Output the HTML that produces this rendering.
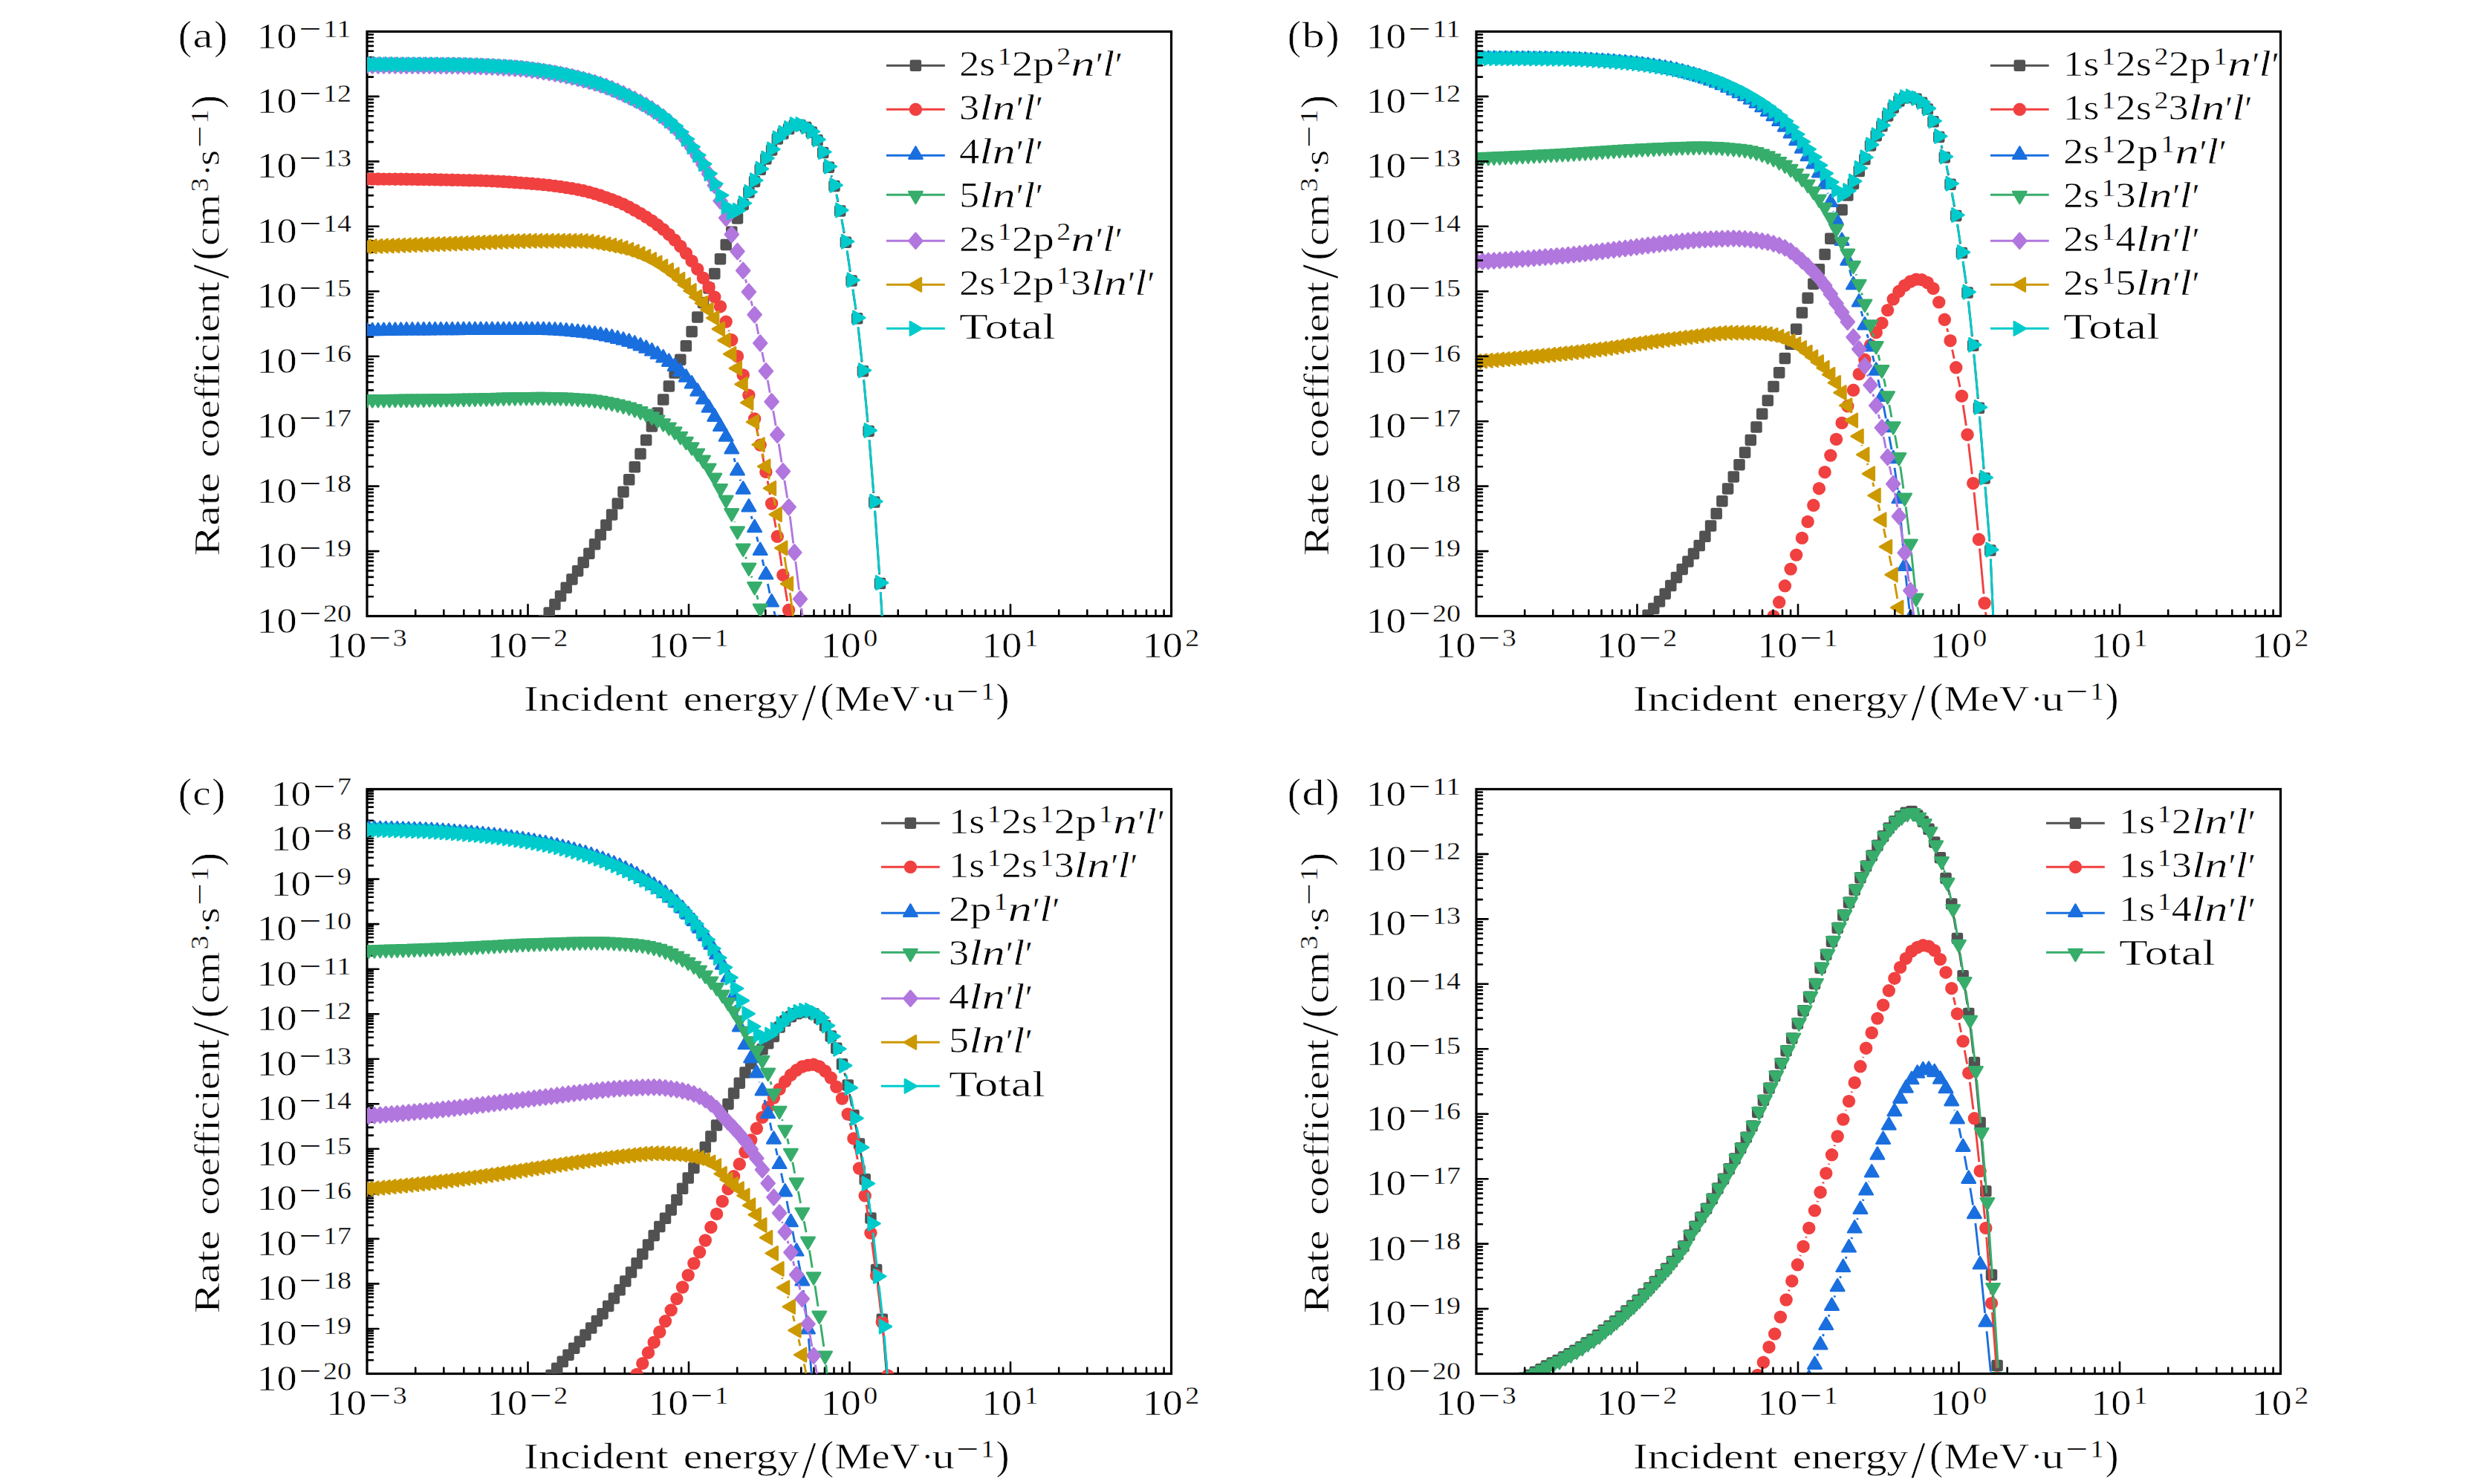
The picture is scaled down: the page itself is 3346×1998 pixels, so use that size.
<!DOCTYPE html><html><head><meta charset="utf-8"><title>Rate coefficients</title><style>html,body{margin:0;padding:0;background:#fff}svg{display:block}text{white-space:pre}</style></head><body><svg width="3346" height="1998" viewBox="0 0 3346 1998"><rect width="3346" height="1998" fill="#fff"/><defs><marker id="m_gray" markerUnits="userSpaceOnUse" markerWidth="40" markerHeight="40" refX="0" refY="0" viewBox="-20 -20 40 40" overflow="visible" orient="0"><g fill="#515151" stroke="#515151" stroke-width="0"><rect x="-7.75" y="-7.75" width="15.5" height="15.5" rx="2.4" ry="2.4"/></g></marker><marker id="m_red" markerUnits="userSpaceOnUse" markerWidth="40" markerHeight="40" refX="0" refY="0" viewBox="-20 -20 40 40" overflow="visible" orient="0"><g fill="#F14040" stroke="#F14040" stroke-width="0"><circle r="8.7"/></g></marker><marker id="m_blue" markerUnits="userSpaceOnUse" markerWidth="40" markerHeight="40" refX="0" refY="0" viewBox="-20 -20 40 40" overflow="visible" orient="0"><g fill="#1A6FDF" stroke="#1A6FDF" stroke-width="0"><path d="M0.00,-10.57 L9.15,5.28 L-9.15,5.28 Z" stroke-width="2.6" stroke-linejoin="round"/></g></marker><marker id="m_green" markerUnits="userSpaceOnUse" markerWidth="40" markerHeight="40" refX="0" refY="0" viewBox="-20 -20 40 40" overflow="visible" orient="0"><g fill="#37AD6B" stroke="#37AD6B" stroke-width="0"><path d="M0.00,10.57 L9.15,-5.28 L-9.15,-5.28 Z" stroke-width="2.6" stroke-linejoin="round"/></g></marker><marker id="m_purple" markerUnits="userSpaceOnUse" markerWidth="40" markerHeight="40" refX="0" refY="0" viewBox="-20 -20 40 40" overflow="visible" orient="0"><g fill="#B177DE" stroke="#B177DE" stroke-width="0"><path d="M-0.00,-10.41 L8.98,0.00 L0.00,10.41 L-8.98,0.00 Z" stroke-width="2.6" stroke-linejoin="round"/></g></marker><marker id="m_gold" markerUnits="userSpaceOnUse" markerWidth="40" markerHeight="40" refX="0" refY="0" viewBox="-20 -20 40 40" overflow="visible" orient="0"><g fill="#CC9900" stroke="#CC9900" stroke-width="0"><path d="M-10.57,0.00 L5.28,-9.15 L5.28,9.15 Z" stroke-width="2.6" stroke-linejoin="round"/></g></marker><marker id="m_cyan" markerUnits="userSpaceOnUse" markerWidth="40" markerHeight="40" refX="0" refY="0" viewBox="-20 -20 40 40" overflow="visible" orient="0"><g fill="#00CBCC" stroke="#00CBCC" stroke-width="0"><path d="M10.57,0.00 L-5.28,-9.15 L-5.28,9.15 Z" stroke-width="2.6" stroke-linejoin="round"/></g></marker></defs><clipPath id="cp_a"><rect x="494" y="42.5" width="1082.5" height="787.0"/></clipPath><path d="M559.2,829.5 v-8 M597.3,829.5 v-8 M624.3,829.5 v-8 M645.3,829.5 v-8 M662.5,829.5 v-8 M677.0,829.5 v-8 M689.5,829.5 v-8 M700.6,829.5 v-8 M775.7,829.5 v-8 M813.8,829.5 v-8 M840.8,829.5 v-8 M861.8,829.5 v-8 M879.0,829.5 v-8 M893.5,829.5 v-8 M906.0,829.5 v-8 M917.1,829.5 v-8 M710.5,829.5 v-15.5 M992.2,829.5 v-8 M1030.3,829.5 v-8 M1057.3,829.5 v-8 M1078.3,829.5 v-8 M1095.5,829.5 v-8 M1110.0,829.5 v-8 M1122.5,829.5 v-8 M1133.6,829.5 v-8 M927.0,829.5 v-15.5 M1208.7,829.5 v-8 M1246.8,829.5 v-8 M1273.8,829.5 v-8 M1294.8,829.5 v-8 M1312.0,829.5 v-8 M1326.5,829.5 v-8 M1339.0,829.5 v-8 M1350.1,829.5 v-8 M1143.5,829.5 v-15.5 M1425.2,829.5 v-8 M1463.3,829.5 v-8 M1490.3,829.5 v-8 M1511.3,829.5 v-8 M1528.5,829.5 v-8 M1543.0,829.5 v-8 M1555.5,829.5 v-8 M1566.6,829.5 v-8 M1360.0,829.5 v-15.5 M494,803.2 h8 M494,787.8 h8 M494,776.9 h8 M494,768.4 h8 M494,761.5 h8 M494,755.6 h8 M494,750.5 h8 M494,746.1 h8 M494,715.7 h8 M494,700.3 h8 M494,689.4 h8 M494,680.9 h8 M494,674.0 h8 M494,668.2 h8 M494,663.1 h8 M494,658.6 h8 M494,742.1 h15.5 M494,628.3 h8 M494,612.9 h8 M494,602.0 h8 M494,593.5 h8 M494,586.6 h8 M494,580.7 h8 M494,575.6 h8 M494,571.2 h8 M494,654.6 h15.5 M494,540.8 h8 M494,525.4 h8 M494,514.5 h8 M494,506.0 h8 M494,499.1 h8 M494,493.3 h8 M494,488.2 h8 M494,483.7 h8 M494,567.2 h15.5 M494,453.4 h8 M494,438.0 h8 M494,427.1 h8 M494,418.6 h8 M494,411.7 h8 M494,405.8 h8 M494,400.8 h8 M494,396.3 h8 M494,479.7 h15.5 M494,366.0 h8 M494,350.6 h8 M494,339.6 h8 M494,331.2 h8 M494,324.2 h8 M494,318.4 h8 M494,313.3 h8 M494,308.8 h8 M494,392.3 h15.5 M494,278.5 h8 M494,263.1 h8 M494,252.2 h8 M494,243.7 h8 M494,236.8 h8 M494,230.9 h8 M494,225.9 h8 M494,221.4 h8 M494,304.8 h15.5 M494,191.1 h8 M494,175.7 h8 M494,164.7 h8 M494,156.3 h8 M494,149.3 h8 M494,143.5 h8 M494,138.4 h8 M494,133.9 h8 M494,217.4 h15.5 M494,103.6 h8 M494,88.2 h8 M494,77.3 h8 M494,68.8 h8 M494,61.9 h8 M494,56.0 h8 M494,51.0 h8 M494,46.5 h8 M494,129.9 h15.5" stroke="#000" stroke-width="2.6" fill="none" stroke-linecap="round"/><rect x="494" y="42.5" width="1082.5" height="787.0" fill="none" stroke="#000" stroke-width="3.2"/><g clip-path="url(#cp_a)" fill="none" stroke-width="2.9" stroke-linejoin="round"><path d="M1118.9,236.9L1119.5,238.6M1125.8,262.4L1128.0,272.0M1132.9,296.1L1136.2,314.1M1140.2,338.3L1144.3,366.0M1147.9,390.3L1151.9,416.7M1155.1,441.1L1160.1,487.5M1162.6,511.9L1167.9,568.3M1170.1,592.8L1175.8,663.8M1177.6,688.3L1183.6,773.3M1185.2,797.9L1191.4,898.1" stroke="#515151"/><polyline points="731.5,836.1 739.2,824.9 746.9,813.8 754.5,802.6 762.2,791.3 769.9,780.0 777.6,768.7 785.2,757.2 792.9,745.2 800.6,732.8 808.3,720.1 815.9,706.9 823.6,692.9 831.3,678.0 839.0,662.2 846.7,645.8 854.3,628.8 862.0,611.1 869.7,592.6 877.4,574.1 885.0,556.1 892.7,538.1 900.4,520.0 908.1,502.1 915.8,484.2 923.4,465.8 931.1,446.5 938.8,427.0 946.5,407.5 954.1,388.0 961.8,368.4 969.5,348.7 977.2,329.4 984.8,312.2 992.5,293.9 1000.2,275.4 1007.9,258.9 1015.6,244.4 1023.2,228.3 1030.9,214.0 1038.6,202.0 1046.3,187.0 1053.9,179.9 1061.6,173.6 1069.3,168.6 1077.0,168.6 1084.7,171.6 1092.3,178.1 1100.0,188.8 1107.7,205.6 1115.4,225.2 1123.0,250.4 1130.7,284.0 1138.4,326.2 1146.1,378.1 1153.7,428.8 1161.4,499.7 1169.1,580.5 1176.8,676.1 1184.5,785.6 1192.1,910.4" stroke="none" marker-start="url(#m_gray)" marker-mid="url(#m_gray)" marker-end="url(#m_gray)"/><path d="M980.8,444.8L981.2,446.0M996.1,491.5L996.6,493.1M1003.5,516.7L1004.5,520.3M1010.8,544.1L1012.7,551.9M1018.2,575.9L1020.6,587.1M1025.8,611.1L1028.4,623.4M1033.1,647.5L1036.4,665.9M1040.7,690.1L1044.2,710.2M1048.1,734.5L1052.1,762.0M1055.9,786.3L1059.6,809.2M1063.6,833.5L1067.3,855.8" stroke="#F14040"/><polyline points="485.8,240.9 493.5,241.0 501.2,241.0 508.9,241.0 516.5,241.1 524.2,241.1 531.9,241.2 539.6,241.2 547.2,241.3 554.9,241.4 562.6,241.5 570.3,241.6 578.0,241.7 585.6,241.8 593.3,242.0 601.0,242.1 608.7,242.3 616.3,242.4 624.0,242.6 631.7,242.8 639.4,242.9 647.0,243.1 654.7,243.4 662.4,243.7 670.1,244.1 677.8,244.5 685.4,245.0 693.1,245.5 700.8,246.1 708.5,246.6 716.1,247.3 723.8,247.9 731.5,248.6 739.2,249.4 746.9,250.4 754.5,251.4 762.2,252.6 769.9,253.8 777.6,255.2 785.2,256.8 792.9,258.7 800.6,260.9 808.3,263.3 815.9,265.9 823.6,268.6 831.3,271.6 839.0,274.9 846.7,278.8 854.3,283.0 862.0,287.4 869.7,292.1 877.4,297.2 885.0,302.8 892.7,308.9 900.4,315.7 908.1,323.1 915.8,331.5 923.4,341.0 931.1,351.4 938.8,362.4 946.5,374.2 954.1,386.9 961.8,399.9 969.5,412.7 977.2,433.1 984.8,457.8 992.5,479.7 1000.2,504.9 1007.9,532.1 1015.6,563.9 1023.2,599.1 1030.9,635.4 1038.6,678.0 1046.3,722.3 1053.9,774.2 1061.6,821.3 1069.3,867.9" stroke="none" marker-start="url(#m_red)" marker-mid="url(#m_red)" marker-end="url(#m_red)"/><path d="M988.0,616.9L989.4,622.0M996.1,645.6L996.6,647.4M1011.2,694.8L1012.3,698.9M1018.5,722.7L1020.3,729.5M1026.1,753.4L1028.1,762.0M1033.4,786.0L1036.1,798.9M1041.8,822.8L1043.1,827.8" stroke="#1A6FDF"/><polyline points="485.8,445.8 493.5,445.8 501.2,445.7 508.9,445.6 516.5,445.4 524.2,445.3 531.9,445.2 539.6,445.1 547.2,445.0 554.9,445.0 562.6,444.9 570.3,444.8 578.0,444.8 585.6,444.7 593.3,444.7 601.0,444.6 608.7,444.6 616.3,444.6 624.0,444.5 631.7,444.5 639.4,444.5 647.0,444.5 654.7,444.4 662.4,444.4 670.1,444.4 677.8,444.4 685.4,444.4 693.1,444.4 700.8,444.4 708.5,444.4 716.1,444.4 723.8,444.4 731.5,444.4 739.2,444.6 746.9,444.9 754.5,445.4 762.2,446.0 769.9,446.7 777.6,447.4 785.2,448.1 792.9,449.0 800.6,450.1 808.3,451.4 815.9,452.9 823.6,454.5 831.3,456.3 839.0,458.2 846.7,460.3 854.3,463.0 862.0,465.9 869.7,469.2 877.4,473.0 885.0,477.2 892.7,482.0 900.4,487.3 908.1,493.5 915.8,500.4 923.4,508.1 931.1,517.0 938.8,527.2 946.5,538.0 954.1,549.2 961.8,561.3 969.5,574.5 977.2,588.1 984.8,605.0 992.5,633.9 1000.2,659.1 1007.9,682.9 1015.6,710.7 1023.2,741.5 1030.9,773.9 1038.6,811.0 1046.3,839.7" stroke="none" marker-start="url(#m_blue)" marker-mid="url(#m_blue)" marker-end="url(#m_blue)"/><path d="M988.6,702.4L988.8,703.2M1003.7,749.9L1004.4,752.3M1011.4,775.9L1012.0,777.7M1018.6,801.4L1020.1,807.2M1026.1,831.0L1028.0,838.8" stroke="#37AD6B"/><polyline points="485.8,537.8 493.5,537.7 501.2,537.7 508.9,537.6 516.5,537.5 524.2,537.5 531.9,537.4 539.6,537.3 547.2,537.2 554.9,537.2 562.6,537.1 570.3,537.0 578.0,536.9 585.6,536.8 593.3,536.7 601.0,536.6 608.7,536.5 616.3,536.4 624.0,536.3 631.7,536.2 639.4,536.0 647.0,535.8 654.7,535.7 662.4,535.5 670.1,535.3 677.8,535.1 685.4,534.9 693.1,534.8 700.8,534.6 708.5,534.5 716.1,534.5 723.8,534.4 731.5,534.4 739.2,534.5 746.9,534.7 754.5,534.9 762.2,535.2 769.9,535.6 777.6,536.0 785.2,536.5 792.9,537.2 800.6,538.1 808.3,539.4 815.9,540.8 823.6,542.4 831.3,544.1 839.0,546.0 846.7,548.1 854.3,550.7 862.0,553.7 869.7,557.0 877.4,560.8 885.0,565.1 892.7,569.8 900.4,575.0 908.1,580.9 915.8,587.4 923.4,594.3 931.1,601.8 938.8,610.0 946.5,619.2 954.1,630.1 961.8,643.1 969.5,657.7 977.2,673.0 984.8,690.7 992.5,714.9 1000.2,738.1 1007.9,764.1 1015.6,789.5 1023.2,819.1 1030.9,850.8" stroke="none" marker-start="url(#m_green)" marker-mid="url(#m_green)" marker-end="url(#m_green)"/><path d="M996.0,350.3L996.7,352.5M1003.4,376.2L1004.7,381.1M1010.9,405.0L1012.6,411.8M1018.0,435.8L1020.8,449.9M1025.7,474.0L1028.5,487.6M1033.2,511.8L1036.3,528.7M1040.7,552.9L1044.2,573.2M1048.2,597.5L1052.1,622.5M1055.9,646.8L1059.7,670.6M1063.2,694.9L1067.8,731.6M1070.8,756.0L1075.5,794.3M1078.7,818.7L1083.0,850.1" stroke="#B177DE"/><polyline points="485.8,88.1 493.5,88.1 501.2,88.1 508.9,88.1 516.5,88.1 524.2,88.1 531.9,88.1 539.6,88.2 547.2,88.2 554.9,88.2 562.6,88.2 570.3,88.2 578.0,88.3 585.6,88.3 593.3,88.4 601.0,88.5 608.7,88.5 616.3,88.6 624.0,88.7 631.7,88.9 639.4,89.2 647.0,89.4 654.7,89.8 662.4,90.1 670.1,90.5 677.8,91.0 685.4,91.4 693.1,91.9 700.8,92.5 708.5,93.3 716.1,94.2 723.8,95.2 731.5,96.4 739.2,97.6 746.9,98.9 754.5,100.3 762.2,101.8 769.9,103.5 777.6,105.3 785.2,107.2 792.9,109.3 800.6,111.5 808.3,113.9 815.9,116.6 823.6,119.6 831.3,122.9 839.0,126.3 846.7,130.0 854.3,133.8 862.0,137.7 869.7,142.0 877.4,146.8 885.0,152.0 892.7,157.7 900.4,164.1 908.1,171.2 915.8,179.2 923.4,188.6 931.1,199.1 938.8,210.3 946.5,221.8 954.1,234.5 961.8,249.6 969.5,270.5 977.2,293.4 984.8,315.7 992.5,338.5 1000.2,364.3 1007.9,393.0 1015.6,423.7 1023.2,462.0 1030.9,499.7 1038.6,540.8 1046.3,585.3 1053.9,634.7 1061.6,682.7 1069.3,743.8 1077.0,806.5 1084.7,862.3" stroke="none" marker-start="url(#m_purple)" marker-mid="url(#m_purple)" marker-end="url(#m_purple)"/><path d="M1003.8,529.1L1004.3,530.5M1011.4,554.0L1012.1,556.4M1018.6,580.1L1020.2,586.7M1026.4,610.6L1027.8,616.1M1034.0,639.9L1035.5,645.5M1041.2,669.4L1043.6,680.5M1048.3,704.7L1051.9,725.8M1055.9,750.1L1059.7,773.8M1063.3,798.1L1067.6,830.3" stroke="#CC9900"/><polyline points="485.8,332.2 493.5,331.9 501.2,331.7 508.9,331.4 516.5,331.1 524.2,330.9 531.9,330.6 539.6,330.3 547.2,330.1 554.9,329.8 562.6,329.5 570.3,329.3 578.0,329.0 585.6,328.8 593.3,328.5 601.0,328.3 608.7,328.0 616.3,327.7 624.0,327.5 631.7,327.2 639.4,326.9 647.0,326.5 654.7,326.2 662.4,325.9 670.1,325.5 677.8,325.3 685.4,325.0 693.1,324.7 700.8,324.6 708.5,324.4 716.1,324.3 723.8,324.3 731.5,324.3 739.2,324.3 746.9,324.3 754.5,324.3 762.2,324.3 769.9,324.3 777.6,324.3 785.2,324.6 792.9,325.3 800.6,326.3 808.3,327.6 815.9,329.0 823.6,330.5 831.3,332.1 839.0,333.9 846.7,336.2 854.3,338.9 862.0,341.9 869.7,345.5 877.4,349.5 885.0,353.9 892.7,358.7 900.4,363.9 908.1,369.7 915.8,376.2 923.4,383.5 931.1,391.6 938.8,399.9 946.5,408.2 954.1,417.2 961.8,428.2 969.5,443.0 977.2,458.3 984.8,476.6 992.5,495.9 1000.2,517.3 1007.9,542.2 1015.6,568.1 1023.2,598.7 1030.9,628.0 1038.6,657.4 1046.3,692.6 1053.9,737.9 1061.6,786.0 1069.3,842.5" stroke="none" marker-start="url(#m_gold)" marker-mid="url(#m_gold)" marker-end="url(#m_gold)"/><path d="M1118.9,235.9L1119.5,237.6M1125.8,261.4L1128.0,271.0M1132.9,295.1L1136.2,313.1M1140.2,337.3L1144.3,365.0M1147.9,389.3L1151.9,415.7M1155.1,440.1L1160.1,486.5M1162.6,510.9L1167.9,567.3M1170.1,591.8L1175.8,662.8M1177.6,687.3L1183.6,772.3M1185.2,796.9L1191.4,897.1" stroke="#00CBCC"/><polyline points="485.8,86.6 493.5,86.6 501.2,86.6 508.9,86.6 516.5,86.6 524.2,86.6 531.9,86.6 539.6,86.7 547.2,86.7 554.9,86.7 562.6,86.7 570.3,86.7 578.0,86.8 585.6,86.8 593.3,86.9 601.0,87.0 608.7,87.0 616.3,87.1 624.0,87.2 631.7,87.4 639.4,87.7 647.0,87.9 654.7,88.3 662.4,88.6 670.1,89.0 677.8,89.5 685.4,89.9 693.1,90.4 700.8,91.0 708.5,91.8 716.1,92.7 723.8,93.7 731.5,94.9 739.2,96.1 746.9,97.4 754.5,98.8 762.2,100.3 769.9,102.0 777.6,103.8 785.2,105.7 792.9,107.8 800.6,110.0 808.3,112.4 815.9,115.1 823.6,118.1 831.3,121.4 839.0,124.8 846.7,128.5 854.3,132.3 862.0,136.2 869.7,140.5 877.4,145.3 885.0,150.5 892.7,156.2 900.4,162.6 908.1,169.7 915.8,177.7 923.4,187.2 931.1,197.6 938.8,208.8 946.5,220.7 954.1,233.7 961.8,247.4 969.5,262.9 977.2,278.3 984.8,286.0 992.5,283.3 1000.2,273.7 1007.9,258.5 1015.6,242.8 1023.2,227.3 1030.9,213.0 1038.6,201.0 1046.3,186.0 1053.9,178.9 1061.6,172.6 1069.3,167.6 1077.0,167.6 1084.7,170.6 1092.3,177.1 1100.0,187.8 1107.7,204.6 1115.4,224.2 1123.0,249.4 1130.7,283.0 1138.4,325.2 1146.1,377.1 1153.7,427.8 1161.4,498.7 1169.1,579.5 1176.8,675.1 1184.5,784.6 1192.1,909.4" stroke="none" marker-start="url(#m_cyan)" marker-mid="url(#m_cyan)" marker-end="url(#m_cyan)"/></g><g font-family='"Liberation Serif", serif' fill="#000" stroke="#fff" stroke-width="0.6"><text x="345.4" y="64.5" font-size="48.0" textLength="54.3" lengthAdjust="spacingAndGlyphs">10</text><text x="402.9" y="49.5" font-size="33.60" stroke="none" textLength="29.6" lengthAdjust="spacingAndGlyphs">−</text><text x="435.0" y="49.5" font-size="33.60" stroke-width="0.35" textLength="38.0" lengthAdjust="spacingAndGlyphs">11</text><text x="345.4" y="151.9" font-size="48.0" textLength="54.3" lengthAdjust="spacingAndGlyphs">10</text><text x="402.9" y="136.9" font-size="33.60" stroke="none" textLength="29.6" lengthAdjust="spacingAndGlyphs">−</text><text x="435.0" y="136.9" font-size="33.60" stroke-width="0.35" textLength="38.0" lengthAdjust="spacingAndGlyphs">12</text><text x="345.4" y="239.4" font-size="48.0" textLength="54.3" lengthAdjust="spacingAndGlyphs">10</text><text x="402.9" y="224.4" font-size="33.60" stroke="none" textLength="29.6" lengthAdjust="spacingAndGlyphs">−</text><text x="435.0" y="224.4" font-size="33.60" stroke-width="0.35" textLength="38.0" lengthAdjust="spacingAndGlyphs">13</text><text x="345.4" y="326.8" font-size="48.0" textLength="54.3" lengthAdjust="spacingAndGlyphs">10</text><text x="402.9" y="311.8" font-size="33.60" stroke="none" textLength="29.6" lengthAdjust="spacingAndGlyphs">−</text><text x="435.0" y="311.8" font-size="33.60" stroke-width="0.35" textLength="38.0" lengthAdjust="spacingAndGlyphs">14</text><text x="345.4" y="414.3" font-size="48.0" textLength="54.3" lengthAdjust="spacingAndGlyphs">10</text><text x="402.9" y="399.3" font-size="33.60" stroke="none" textLength="29.6" lengthAdjust="spacingAndGlyphs">−</text><text x="435.0" y="399.3" font-size="33.60" stroke-width="0.35" textLength="38.0" lengthAdjust="spacingAndGlyphs">15</text><text x="345.4" y="501.7" font-size="48.0" textLength="54.3" lengthAdjust="spacingAndGlyphs">10</text><text x="402.9" y="486.7" font-size="33.60" stroke="none" textLength="29.6" lengthAdjust="spacingAndGlyphs">−</text><text x="435.0" y="486.7" font-size="33.60" stroke-width="0.35" textLength="38.0" lengthAdjust="spacingAndGlyphs">16</text><text x="345.4" y="589.2" font-size="48.0" textLength="54.3" lengthAdjust="spacingAndGlyphs">10</text><text x="402.9" y="574.2" font-size="33.60" stroke="none" textLength="29.6" lengthAdjust="spacingAndGlyphs">−</text><text x="435.0" y="574.2" font-size="33.60" stroke-width="0.35" textLength="38.0" lengthAdjust="spacingAndGlyphs">17</text><text x="345.4" y="676.6" font-size="48.0" textLength="54.3" lengthAdjust="spacingAndGlyphs">10</text><text x="402.9" y="661.6" font-size="33.60" stroke="none" textLength="29.6" lengthAdjust="spacingAndGlyphs">−</text><text x="435.0" y="661.6" font-size="33.60" stroke-width="0.35" textLength="38.0" lengthAdjust="spacingAndGlyphs">18</text><text x="345.4" y="764.1" font-size="48.0" textLength="54.3" lengthAdjust="spacingAndGlyphs">10</text><text x="402.9" y="749.1" font-size="33.60" stroke="none" textLength="29.6" lengthAdjust="spacingAndGlyphs">−</text><text x="435.0" y="749.1" font-size="33.60" stroke-width="0.35" textLength="38.0" lengthAdjust="spacingAndGlyphs">19</text><text x="345.4" y="851.5" font-size="48.0" textLength="54.3" lengthAdjust="spacingAndGlyphs">10</text><text x="402.9" y="836.5" font-size="33.60" stroke="none" textLength="29.6" lengthAdjust="spacingAndGlyphs">−</text><text x="435.0" y="836.5" font-size="33.60" stroke-width="0.35" textLength="38.0" lengthAdjust="spacingAndGlyphs">20</text><text x="439.2" y="885.0" font-size="48.0" textLength="54.3" lengthAdjust="spacingAndGlyphs">10</text><text x="496.7" y="870.0" font-size="33.60" stroke="none" textLength="29.6" lengthAdjust="spacingAndGlyphs">−</text><text x="528.8" y="870.0" font-size="33.60" stroke-width="0.35" textLength="19.0" lengthAdjust="spacingAndGlyphs">3</text><text x="655.7" y="885.0" font-size="48.0" textLength="54.3" lengthAdjust="spacingAndGlyphs">10</text><text x="713.2" y="870.0" font-size="33.60" stroke="none" textLength="29.6" lengthAdjust="spacingAndGlyphs">−</text><text x="745.3" y="870.0" font-size="33.60" stroke-width="0.35" textLength="19.0" lengthAdjust="spacingAndGlyphs">2</text><text x="872.2" y="885.0" font-size="48.0" textLength="54.3" lengthAdjust="spacingAndGlyphs">10</text><text x="929.7" y="870.0" font-size="33.60" stroke="none" textLength="29.6" lengthAdjust="spacingAndGlyphs">−</text><text x="961.8" y="870.0" font-size="33.60" stroke-width="0.35" textLength="19.0" lengthAdjust="spacingAndGlyphs">1</text><text x="1104.7" y="885.0" font-size="48.0" textLength="54.3" lengthAdjust="spacingAndGlyphs">10</text><text x="1162.2" y="870.0" font-size="33.60" stroke-width="0.35" textLength="19.0" lengthAdjust="spacingAndGlyphs">0</text><text x="1321.2" y="885.0" font-size="48.0" textLength="54.3" lengthAdjust="spacingAndGlyphs">10</text><text x="1378.7" y="870.0" font-size="33.60" stroke-width="0.35" textLength="19.0" lengthAdjust="spacingAndGlyphs">1</text><text x="1537.7" y="885.0" font-size="48.0" textLength="54.3" lengthAdjust="spacingAndGlyphs">10</text><text x="1595.2" y="870.0" font-size="33.60" stroke-width="0.35" textLength="19.0" lengthAdjust="spacingAndGlyphs">2</text><text x="240.1" y="65.5" font-size="54.0">(</text><text x="259.6" y="64.0" font-size="48.0" textLength="27.1" lengthAdjust="spacingAndGlyphs">a</text><text x="288.3" y="65.5" font-size="54.0">)</text><text x="705.0" y="956.7" font-size="48.0" textLength="194.6" lengthAdjust="spacingAndGlyphs">Incident</text><text x="919.7" y="956.7" font-size="48.0" textLength="155.5" lengthAdjust="spacingAndGlyphs">energy</text><text x="1079.2" y="968.7" font-size="69.0">/</text><text x="1103.9" y="958.2" font-size="54.0">(</text><text x="1123.5" y="956.7" font-size="48.0" textLength="114.6" lengthAdjust="spacingAndGlyphs">MeV</text><text x="1240.3" y="956.7" font-size="48.0">·</text><text x="1254.4" y="956.7" font-size="48.0" textLength="30.2" lengthAdjust="spacingAndGlyphs">u</text><text x="1287.8" y="941.7" font-size="33.60" stroke="none" textLength="29.6" lengthAdjust="spacingAndGlyphs">−</text><text x="1319.9" y="941.7" font-size="33.60" stroke-width="0.35" textLength="19.0" lengthAdjust="spacingAndGlyphs">1</text><text x="1340.4" y="958.2" font-size="54.0">)</text><g transform="translate(294.8,748.5) rotate(-90)"><text x="0.0" y="0.0" font-size="48.0" textLength="112.3" lengthAdjust="spacingAndGlyphs">Rate</text><text x="132.4" y="0.0" font-size="48.0" textLength="236.8" lengthAdjust="spacingAndGlyphs">coefficient</text><text x="373.2" y="12.0" font-size="69.0">/</text><text x="398.0" y="1.5" font-size="54.0">(</text><text x="417.5" y="0.0" font-size="48.0" textLength="69.3" lengthAdjust="spacingAndGlyphs">cm</text><text x="490.1" y="-15.0" font-size="33.60" stroke-width="0.35" textLength="19.0" lengthAdjust="spacingAndGlyphs">3</text><text x="511.2" y="0.0" font-size="48.0">·</text><text x="525.3" y="0.0" font-size="48.0" textLength="21.4" lengthAdjust="spacingAndGlyphs">s</text><text x="549.9" y="-15.0" font-size="33.60" stroke="none" textLength="29.6" lengthAdjust="spacingAndGlyphs">−</text><text x="582.0" y="-15.0" font-size="33.60" stroke-width="0.35" textLength="19.0" lengthAdjust="spacingAndGlyphs">1</text><text x="602.6" y="1.5" font-size="54.0">)</text></g><path d="M1193,88.3 h78.8" stroke="#515151" stroke-width="2.9" fill="none"/><g transform="translate(1232.4,88.3)" fill="#515151" stroke="#515151" stroke-width="0"><rect x="-7.75" y="-7.75" width="15.5" height="15.5" rx="2.4" ry="2.4"/></g><text x="1291.0" y="101.9" font-size="48.0" textLength="48.5" lengthAdjust="spacingAndGlyphs">2s</text><text x="1342.7" y="86.9" font-size="33.60" stroke-width="0.35" textLength="19.0" lengthAdjust="spacingAndGlyphs">1</text><text x="1361.7" y="101.9" font-size="48.0" textLength="57.3" lengthAdjust="spacingAndGlyphs">2p</text><text x="1422.3" y="86.9" font-size="33.60" stroke-width="0.35" textLength="19.0" lengthAdjust="spacingAndGlyphs">2</text><text x="1441.3" y="101.9" font-size="48.0" font-style="italic" textLength="32.6" lengthAdjust="spacingAndGlyphs">n</text><text x="1474.9" y="102.9" font-size="45.6" stroke-width="0.3">′</text><text x="1483.9" y="101.9" font-size="48.0" font-style="italic" textLength="16.2" lengthAdjust="spacingAndGlyphs">l</text><text x="1501.1" y="102.9" font-size="45.6" stroke-width="0.3">′</text><path d="M1193,147.3 h78.8" stroke="#F14040" stroke-width="2.9" fill="none"/><g transform="translate(1232.4,147.3)" fill="#F14040" stroke="#F14040" stroke-width="0"><circle r="8.7"/></g><text x="1291.0" y="160.9" font-size="48.0" textLength="27.1" lengthAdjust="spacingAndGlyphs">3</text><text x="1318.2" y="160.9" font-size="48.0" font-style="italic" textLength="48.8" lengthAdjust="spacingAndGlyphs">ln</text><text x="1367.9" y="161.9" font-size="45.6" stroke-width="0.3">′</text><text x="1377.0" y="160.9" font-size="48.0" font-style="italic" textLength="16.2" lengthAdjust="spacingAndGlyphs">l</text><text x="1394.1" y="161.9" font-size="45.6" stroke-width="0.3">′</text><path d="M1193,209.3 h78.8" stroke="#1A6FDF" stroke-width="2.9" fill="none"/><g transform="translate(1232.4,208.3)" fill="#1A6FDF" stroke="#1A6FDF" stroke-width="0"><path d="M0.00,-10.57 L9.15,5.28 L-9.15,5.28 Z" stroke-width="2.6" stroke-linejoin="round"/></g><text x="1291.0" y="219.9" font-size="48.0" textLength="27.1" lengthAdjust="spacingAndGlyphs">4</text><text x="1318.2" y="219.9" font-size="48.0" font-style="italic" textLength="48.8" lengthAdjust="spacingAndGlyphs">ln</text><text x="1367.9" y="220.9" font-size="45.6" stroke-width="0.3">′</text><text x="1377.0" y="219.9" font-size="48.0" font-style="italic" textLength="16.2" lengthAdjust="spacingAndGlyphs">l</text><text x="1394.1" y="220.9" font-size="45.6" stroke-width="0.3">′</text><path d="M1193,262.3 h78.8" stroke="#37AD6B" stroke-width="2.9" fill="none"/><g transform="translate(1232.4,263.3)" fill="#37AD6B" stroke="#37AD6B" stroke-width="0"><path d="M0.00,10.57 L9.15,-5.28 L-9.15,-5.28 Z" stroke-width="2.6" stroke-linejoin="round"/></g><text x="1291.0" y="278.9" font-size="48.0" textLength="27.1" lengthAdjust="spacingAndGlyphs">5</text><text x="1318.2" y="278.9" font-size="48.0" font-style="italic" textLength="48.8" lengthAdjust="spacingAndGlyphs">ln</text><text x="1367.9" y="279.9" font-size="45.6" stroke-width="0.3">′</text><text x="1377.0" y="278.9" font-size="48.0" font-style="italic" textLength="16.2" lengthAdjust="spacingAndGlyphs">l</text><text x="1394.1" y="279.9" font-size="45.6" stroke-width="0.3">′</text><path d="M1193,324.3 h78.8" stroke="#B177DE" stroke-width="2.9" fill="none"/><g transform="translate(1232.4,324.3)" fill="#B177DE" stroke="#B177DE" stroke-width="0"><path d="M-0.00,-10.41 L8.98,0.00 L0.00,10.41 L-8.98,0.00 Z" stroke-width="2.6" stroke-linejoin="round"/></g><text x="1291.0" y="337.9" font-size="48.0" textLength="48.5" lengthAdjust="spacingAndGlyphs">2s</text><text x="1342.7" y="322.9" font-size="33.60" stroke-width="0.35" textLength="19.0" lengthAdjust="spacingAndGlyphs">1</text><text x="1361.7" y="337.9" font-size="48.0" textLength="57.3" lengthAdjust="spacingAndGlyphs">2p</text><text x="1422.3" y="322.9" font-size="33.60" stroke-width="0.35" textLength="19.0" lengthAdjust="spacingAndGlyphs">2</text><text x="1441.3" y="337.9" font-size="48.0" font-style="italic" textLength="32.6" lengthAdjust="spacingAndGlyphs">n</text><text x="1474.9" y="338.9" font-size="45.6" stroke-width="0.3">′</text><text x="1483.9" y="337.9" font-size="48.0" font-style="italic" textLength="16.2" lengthAdjust="spacingAndGlyphs">l</text><text x="1501.1" y="338.9" font-size="45.6" stroke-width="0.3">′</text><path d="M1193,383.3 h78.8" stroke="#CC9900" stroke-width="2.9" fill="none"/><g transform="translate(1234.6,383.3)" fill="#CC9900" stroke="#CC9900" stroke-width="0"><path d="M-10.57,0.00 L5.28,-9.15 L5.28,9.15 Z" stroke-width="2.6" stroke-linejoin="round"/></g><text x="1291.0" y="396.9" font-size="48.0" textLength="48.5" lengthAdjust="spacingAndGlyphs">2s</text><text x="1342.7" y="381.9" font-size="33.60" stroke-width="0.35" textLength="19.0" lengthAdjust="spacingAndGlyphs">1</text><text x="1361.7" y="396.9" font-size="48.0" textLength="57.3" lengthAdjust="spacingAndGlyphs">2p</text><text x="1422.3" y="381.9" font-size="33.60" stroke-width="0.35" textLength="19.0" lengthAdjust="spacingAndGlyphs">1</text><text x="1441.3" y="396.9" font-size="48.0" textLength="27.1" lengthAdjust="spacingAndGlyphs">3</text><text x="1468.4" y="396.9" font-size="48.0" font-style="italic" textLength="48.8" lengthAdjust="spacingAndGlyphs">ln</text><text x="1518.2" y="397.9" font-size="45.6" stroke-width="0.3">′</text><text x="1527.3" y="396.9" font-size="48.0" font-style="italic" textLength="16.2" lengthAdjust="spacingAndGlyphs">l</text><text x="1544.4" y="397.9" font-size="45.6" stroke-width="0.3">′</text><path d="M1193,442.3 h78.8" stroke="#00CBCC" stroke-width="2.9" fill="none"/><g transform="translate(1230.2,442.3)" fill="#00CBCC" stroke="#00CBCC" stroke-width="0"><path d="M10.57,0.00 L-5.28,-9.15 L-5.28,9.15 Z" stroke-width="2.6" stroke-linejoin="round"/></g><text x="1291.0" y="455.9" font-size="48.0" textLength="129.7" lengthAdjust="spacingAndGlyphs">Total</text></g><clipPath id="cp_b"><rect x="1987" y="42.5" width="1082.5" height="787.0"/></clipPath><g clip-path="url(#cp_b)" fill="none" stroke-width="2.9" stroke-linejoin="round"><path d="M2613.0,196.3L2614.0,200.0M2619.9,223.9L2622.5,236.2M2627.2,260.3L2630.5,278.4M2634.6,302.6L2638.5,328.5M2642.1,352.8L2646.3,381.9M2649.4,406.3L2654.4,453.1M2656.8,477.6L2662.3,537.0M2664.4,561.5L2670.1,631.7M2672.0,656.2L2677.8,728.8M2679.3,753.4L2685.9,904.0" stroke="#515151"/><polyline points="2210.4,837.2 2218.1,828.2 2225.8,819.3 2233.5,809.8 2241.2,799.5 2248.8,788.6 2256.5,777.5 2264.2,766.4 2271.9,756.0 2279.5,745.6 2287.2,734.6 2294.9,722.3 2302.6,707.9 2310.2,691.6 2317.9,674.7 2325.6,658.0 2333.3,641.9 2341.0,625.7 2348.6,609.2 2356.3,592.4 2364.0,575.1 2371.7,557.3 2379.3,539.2 2387.0,520.6 2394.7,501.7 2402.4,482.5 2410.1,463.3 2417.7,443.2 2425.4,421.1 2433.1,401.3 2440.8,382.2 2448.4,362.8 2456.1,342.4 2463.8,321.2 2471.5,302.1 2479.1,282.6 2486.8,263.1 2494.5,247.5 2502.2,230.6 2509.9,214.6 2517.5,196.0 2525.2,182.7 2532.9,169.8 2540.6,155.9 2548.2,145.0 2555.9,136.1 2563.6,131.7 2571.3,130.8 2579.0,133.3 2586.6,138.3 2594.3,147.0 2602.0,163.8 2609.7,184.4 2617.3,211.9 2625.0,248.2 2632.7,290.5 2640.4,340.6 2648.0,394.1 2655.7,465.3 2663.4,549.3 2671.1,644.0 2678.8,741.1 2686.4,916.2" stroke="none" marker-start="url(#m_gray)" marker-mid="url(#m_gray)" marker-end="url(#m_gray)"/><path d="M2620.5,442.2L2621.8,446.9M2627.6,470.8L2630.1,482.8M2635.1,506.9L2638.0,521.1M2642.2,545.3L2646.3,573.0M2649.5,597.4L2654.3,638.4M2657.0,662.9L2662.2,714.0M2664.5,738.5L2670.0,799.7M2672.5,824.2L2677.3,865.2" stroke="#F14040"/><polyline points="2379.3,848.3 2387.0,829.7 2394.7,810.8 2402.4,788.8 2410.1,766.1 2417.7,747.1 2425.4,724.4 2433.1,702.4 2440.8,680.3 2448.4,657.7 2456.1,635.7 2463.8,613.1 2471.5,591.4 2479.1,569.4 2486.8,546.8 2494.5,525.3 2502.2,503.6 2509.9,484.3 2517.5,464.6 2525.2,447.5 2532.9,434.9 2540.6,417.6 2548.2,402.9 2555.9,392.3 2563.6,384.4 2571.3,379.0 2579.0,376.1 2586.6,376.6 2594.3,380.5 2602.0,388.4 2609.7,406.9 2617.3,430.3 2625.0,458.7 2632.7,494.8 2640.4,533.2 2648.0,585.2 2655.7,650.7 2663.4,726.3 2671.1,812.0 2678.8,877.4" stroke="none" marker-start="url(#m_red)" marker-mid="url(#m_red)" marker-end="url(#m_red)"/><path d="M2459.8,259.8L2460.1,260.7M2467.5,284.1L2467.7,284.8M2474.7,308.4L2475.9,312.5M2482.5,336.2L2483.4,339.3M2489.6,363.1L2491.7,371.8M2505.1,418.9L2506.9,426.0M2513.0,449.8L2514.4,455.0M2520.4,478.8L2522.4,487.2M2527.8,511.1L2530.3,522.4M2535.1,546.5L2538.3,563.5M2542.8,587.7L2546.0,605.6M2550.0,629.9L2554.2,659.4M2557.0,683.8L2562.6,750.2M2564.9,774.7L2569.9,820.1M2572.9,844.5L2577.3,877.7" stroke="#1A6FDF"/><polyline points="1980.1,79.4 1987.8,79.5 1995.5,79.5 2003.2,79.5 2010.8,79.5 2018.5,79.6 2026.2,79.6 2033.9,79.6 2041.5,79.7 2049.2,79.7 2056.9,79.8 2064.6,79.9 2072.3,79.9 2079.9,80.0 2087.6,80.1 2095.3,80.2 2103.0,80.3 2110.6,80.4 2118.3,80.6 2126.0,80.9 2133.7,81.3 2141.3,81.7 2149.0,82.2 2156.7,82.7 2164.4,83.2 2172.1,83.8 2179.7,84.4 2187.4,85.0 2195.1,85.7 2202.8,86.5 2210.4,87.4 2218.1,88.4 2225.8,89.5 2233.5,90.6 2241.2,91.9 2248.8,93.3 2256.5,95.0 2264.2,96.9 2271.9,98.9 2279.5,101.2 2287.2,103.5 2294.9,106.0 2302.6,108.6 2310.2,111.6 2317.9,114.7 2325.6,118.2 2333.3,121.8 2341.0,125.6 2348.6,129.7 2356.3,134.1 2364.0,139.1 2371.7,144.6 2379.3,150.3 2387.0,156.6 2394.7,163.5 2402.4,171.1 2410.1,179.9 2417.7,189.7 2425.4,200.1 2433.1,210.6 2440.8,221.0 2448.4,232.9 2456.1,248.1 2463.8,272.4 2471.5,296.5 2479.1,324.4 2486.8,351.1 2494.5,383.7 2502.2,407.0 2509.9,437.9 2517.5,466.9 2525.2,499.1 2532.9,534.4 2540.6,575.6 2548.2,617.7 2555.9,671.6 2563.6,762.4 2571.3,832.3 2579.0,889.9" stroke="none" marker-start="url(#m_blue)" marker-mid="url(#m_blue)" marker-end="url(#m_blue)"/><path d="M2498.1,369.2L2498.6,370.7M2505.6,394.3L2506.5,397.3M2513.1,421.0L2514.2,425.0M2520.7,448.7L2522.0,453.7M2528.1,477.6L2530.0,485.7M2535.5,509.7L2537.9,520.8M2542.8,544.9L2546.0,561.7M2550.5,585.9L2553.7,603.6M2557.6,627.9L2561.9,657.8M2565.1,682.2L2569.8,719.8M2572.6,744.2L2577.7,792.9M2580.9,817.3L2584.6,839.7" stroke="#37AD6B"/><polyline points="1980.1,212.3 1987.8,212.0 1995.5,211.7 2003.2,211.4 2010.8,211.0 2018.5,210.7 2026.2,210.4 2033.9,210.0 2041.5,209.7 2049.2,209.3 2056.9,209.0 2064.6,208.6 2072.3,208.2 2079.9,207.8 2087.6,207.4 2095.3,207.0 2103.0,206.6 2110.6,206.2 2118.3,205.7 2126.0,205.2 2133.7,204.7 2141.3,204.2 2149.0,203.7 2156.7,203.1 2164.4,202.6 2172.1,202.1 2179.7,201.6 2187.4,201.1 2195.1,200.7 2202.8,200.3 2210.4,199.9 2218.1,199.6 2225.8,199.2 2233.5,198.9 2241.2,198.5 2248.8,198.2 2256.5,197.9 2264.2,197.6 2271.9,197.4 2279.5,197.2 2287.2,197.1 2294.9,197.1 2302.6,197.3 2310.2,197.6 2317.9,198.1 2325.6,198.8 2333.3,199.6 2341.0,200.4 2348.6,201.4 2356.3,202.8 2364.0,204.7 2371.7,207.0 2379.3,209.8 2387.0,213.3 2394.7,217.5 2402.4,222.1 2410.1,227.3 2417.7,233.4 2425.4,240.3 2433.1,248.2 2440.8,257.5 2448.4,268.0 2456.1,279.4 2463.8,292.7 2471.5,308.0 2479.1,325.4 2486.8,341.1 2494.5,357.4 2502.2,382.4 2509.9,409.1 2517.5,436.8 2525.2,465.6 2532.9,497.7 2540.6,532.9 2548.2,573.8 2555.9,615.7 2563.6,670.0 2571.3,732.0 2579.0,805.2 2586.6,851.9" stroke="none" marker-start="url(#m_green)" marker-mid="url(#m_green)" marker-end="url(#m_green)"/><path d="M2513.3,504.3L2514.1,506.7M2520.8,530.4L2521.9,534.2M2528.3,558.0L2529.8,563.9M2535.2,587.9L2538.2,603.5M2543.1,627.7L2545.7,639.5M2550.4,663.6L2553.8,683.0M2557.8,707.2L2561.7,732.2M2565.4,756.5L2569.4,783.1M2572.9,807.4L2577.3,839.3" stroke="#B177DE"/><polyline points="1980.1,352.6 1987.8,352.1 1995.5,351.8 2003.2,351.4 2010.8,351.0 2018.5,350.5 2026.2,350.1 2033.9,349.6 2041.5,349.1 2049.2,348.5 2056.9,348.0 2064.6,347.4 2072.3,346.8 2079.9,346.1 2087.6,345.5 2095.3,344.8 2103.0,344.2 2110.6,343.5 2118.3,342.7 2126.0,341.9 2133.7,341.0 2141.3,340.1 2149.0,339.2 2156.7,338.2 2164.4,337.2 2172.1,336.3 2179.7,335.3 2187.4,334.4 2195.1,333.4 2202.8,332.4 2210.4,331.4 2218.1,330.4 2225.8,329.4 2233.5,328.5 2241.2,327.6 2248.8,326.7 2256.5,325.9 2264.2,325.0 2271.9,324.2 2279.5,323.5 2287.2,322.9 2294.9,322.4 2302.6,322.0 2310.2,321.7 2317.9,321.4 2325.6,321.2 2333.3,321.1 2341.0,321.3 2348.6,321.8 2356.3,322.6 2364.0,323.6 2371.7,324.7 2379.3,326.0 2387.0,328.0 2394.7,330.6 2402.4,333.7 2410.1,338.2 2417.7,344.2 2425.4,351.0 2433.1,358.0 2440.8,365.9 2448.4,374.6 2456.1,384.3 2463.8,395.9 2471.5,408.6 2479.1,420.4 2486.8,433.3 2494.5,453.9 2502.2,470.1 2509.9,492.5 2517.5,518.5 2525.2,546.0 2532.9,575.9 2540.6,615.6 2548.2,651.5 2555.9,695.1 2563.6,744.3 2571.3,795.2 2579.0,851.4" stroke="none" marker-start="url(#m_purple)" marker-mid="url(#m_purple)" marker-end="url(#m_purple)"/><path d="M2505.8,599.1L2506.2,600.3M2513.4,623.9L2514.0,626.0M2520.6,649.7L2522.1,655.2M2528.0,679.1L2530.1,687.9M2535.4,711.9L2538.0,724.1M2543.0,748.2L2545.8,761.8M2550.3,786.0L2553.8,805.9M2558.4,830.1L2561.1,842.6" stroke="#CC9900"/><polyline points="1980.1,487.3 1987.8,486.6 1995.5,486.0 2003.2,485.4 2010.8,484.8 2018.5,484.1 2026.2,483.5 2033.9,482.8 2041.5,482.1 2049.2,481.4 2056.9,480.6 2064.6,479.9 2072.3,479.1 2079.9,478.4 2087.6,477.6 2095.3,476.8 2103.0,475.9 2110.6,475.1 2118.3,474.2 2126.0,473.3 2133.7,472.4 2141.3,471.5 2149.0,470.6 2156.7,469.6 2164.4,468.6 2172.1,467.5 2179.7,466.3 2187.4,465.1 2195.1,463.9 2202.8,462.7 2210.4,461.6 2218.1,460.5 2225.8,459.4 2233.5,458.4 2241.2,457.4 2248.8,456.5 2256.5,455.5 2264.2,454.6 2271.9,453.7 2279.5,452.8 2287.2,451.8 2294.9,450.8 2302.6,449.9 2310.2,449.0 2317.9,448.4 2325.6,448.0 2333.3,448.0 2341.0,448.0 2348.6,448.0 2356.3,448.0 2364.0,448.2 2371.7,448.9 2379.3,449.9 2387.0,451.2 2394.7,453.2 2402.4,456.1 2410.1,459.5 2417.7,463.5 2425.4,468.5 2433.1,474.4 2440.8,480.7 2448.4,487.5 2456.1,495.3 2463.8,504.4 2471.5,515.4 2479.1,528.6 2486.8,545.9 2494.5,566.0 2502.2,587.4 2509.9,612.1 2517.5,637.8 2525.2,667.1 2532.9,699.9 2540.6,736.2 2548.2,773.8 2555.9,818.0 2563.6,854.6" stroke="none" marker-start="url(#m_gold)" marker-mid="url(#m_gold)" marker-end="url(#m_gold)"/><path d="M2613.0,195.3L2614.0,199.0M2619.9,222.9L2622.5,235.2M2627.2,259.3L2630.5,277.4M2634.6,301.6L2638.5,327.5M2642.1,351.8L2646.3,380.9M2649.4,405.3L2654.4,452.1M2656.8,476.6L2662.3,536.0M2664.4,560.5L2670.1,630.7M2672.0,655.2L2677.8,727.8M2679.3,752.4L2685.9,903.0" stroke="#00CBCC"/><polyline points="1980.1,78.4 1987.8,78.5 1995.5,78.5 2003.2,78.5 2010.8,78.5 2018.5,78.6 2026.2,78.6 2033.9,78.6 2041.5,78.7 2049.2,78.7 2056.9,78.8 2064.6,78.9 2072.3,78.9 2079.9,79.0 2087.6,79.1 2095.3,79.2 2103.0,79.3 2110.6,79.4 2118.3,79.6 2126.0,79.9 2133.7,80.3 2141.3,80.7 2149.0,81.2 2156.7,81.7 2164.4,82.2 2172.1,82.8 2179.7,83.4 2187.4,84.0 2195.1,84.7 2202.8,85.5 2210.4,86.4 2218.1,87.4 2225.8,88.5 2233.5,89.7 2241.2,90.9 2248.8,92.2 2256.5,93.7 2264.2,95.3 2271.9,97.1 2279.5,99.0 2287.2,101.0 2294.9,103.2 2302.6,105.6 2310.2,108.3 2317.9,111.2 2325.6,114.3 2333.3,117.7 2341.0,121.2 2348.6,124.9 2356.3,129.1 2364.0,133.7 2371.7,138.7 2379.3,144.0 2387.0,149.7 2394.7,156.0 2402.4,163.0 2410.1,171.4 2417.7,180.8 2425.4,190.8 2433.1,200.9 2440.8,211.5 2448.4,222.5 2456.1,233.5 2463.8,245.2 2471.5,256.0 2479.1,262.8 2486.8,256.8 2494.5,244.0 2502.2,226.4 2509.9,211.9 2517.5,194.9 2525.2,181.7 2532.9,168.8 2540.6,154.9 2548.2,144.0 2555.9,135.1 2563.6,130.7 2571.3,129.8 2579.0,132.3 2586.6,137.3 2594.3,146.0 2602.0,162.8 2609.7,183.4 2617.3,210.9 2625.0,247.2 2632.7,289.5 2640.4,339.6 2648.0,393.1 2655.7,464.3 2663.4,548.3 2671.1,643.0 2678.8,740.1 2686.4,915.2" stroke="none" marker-start="url(#m_cyan)" marker-mid="url(#m_cyan)" marker-end="url(#m_cyan)"/></g><path d="M2052.2,829.5 v-8 M2090.3,829.5 v-8 M2117.3,829.5 v-8 M2138.3,829.5 v-8 M2155.5,829.5 v-8 M2170.0,829.5 v-8 M2182.5,829.5 v-8 M2193.6,829.5 v-8 M2268.7,829.5 v-8 M2306.8,829.5 v-8 M2333.8,829.5 v-8 M2354.8,829.5 v-8 M2372.0,829.5 v-8 M2386.5,829.5 v-8 M2399.0,829.5 v-8 M2410.1,829.5 v-8 M2203.5,829.5 v-15.5 M2485.2,829.5 v-8 M2523.3,829.5 v-8 M2550.3,829.5 v-8 M2571.3,829.5 v-8 M2588.5,829.5 v-8 M2603.0,829.5 v-8 M2615.5,829.5 v-8 M2626.6,829.5 v-8 M2420.0,829.5 v-15.5 M2701.7,829.5 v-8 M2739.8,829.5 v-8 M2766.8,829.5 v-8 M2787.8,829.5 v-8 M2805.0,829.5 v-8 M2819.5,829.5 v-8 M2832.0,829.5 v-8 M2843.1,829.5 v-8 M2636.5,829.5 v-15.5 M2918.2,829.5 v-8 M2956.3,829.5 v-8 M2983.3,829.5 v-8 M3004.3,829.5 v-8 M3021.5,829.5 v-8 M3036.0,829.5 v-8 M3048.5,829.5 v-8 M3059.6,829.5 v-8 M2853.0,829.5 v-15.5 M1987,803.2 h8 M1987,787.8 h8 M1987,776.9 h8 M1987,768.4 h8 M1987,761.5 h8 M1987,755.6 h8 M1987,750.5 h8 M1987,746.1 h8 M1987,715.7 h8 M1987,700.3 h8 M1987,689.4 h8 M1987,680.9 h8 M1987,674.0 h8 M1987,668.2 h8 M1987,663.1 h8 M1987,658.6 h8 M1987,742.1 h15.5 M1987,628.3 h8 M1987,612.9 h8 M1987,602.0 h8 M1987,593.5 h8 M1987,586.6 h8 M1987,580.7 h8 M1987,575.6 h8 M1987,571.2 h8 M1987,654.6 h15.5 M1987,540.8 h8 M1987,525.4 h8 M1987,514.5 h8 M1987,506.0 h8 M1987,499.1 h8 M1987,493.3 h8 M1987,488.2 h8 M1987,483.7 h8 M1987,567.2 h15.5 M1987,453.4 h8 M1987,438.0 h8 M1987,427.1 h8 M1987,418.6 h8 M1987,411.7 h8 M1987,405.8 h8 M1987,400.8 h8 M1987,396.3 h8 M1987,479.7 h15.5 M1987,366.0 h8 M1987,350.6 h8 M1987,339.6 h8 M1987,331.2 h8 M1987,324.2 h8 M1987,318.4 h8 M1987,313.3 h8 M1987,308.8 h8 M1987,392.3 h15.5 M1987,278.5 h8 M1987,263.1 h8 M1987,252.2 h8 M1987,243.7 h8 M1987,236.8 h8 M1987,230.9 h8 M1987,225.9 h8 M1987,221.4 h8 M1987,304.8 h15.5 M1987,191.1 h8 M1987,175.7 h8 M1987,164.7 h8 M1987,156.3 h8 M1987,149.3 h8 M1987,143.5 h8 M1987,138.4 h8 M1987,133.9 h8 M1987,217.4 h15.5 M1987,103.6 h8 M1987,88.2 h8 M1987,77.3 h8 M1987,68.8 h8 M1987,61.9 h8 M1987,56.0 h8 M1987,51.0 h8 M1987,46.5 h8 M1987,129.9 h15.5" stroke="#000" stroke-width="2.6" fill="none" stroke-linecap="round"/><rect x="1987" y="42.5" width="1082.5" height="787.0" fill="none" stroke="#000" stroke-width="3.2"/><g font-family='"Liberation Serif", serif' fill="#000" stroke="#fff" stroke-width="0.6"><text x="1838.4" y="64.5" font-size="48.0" textLength="54.3" lengthAdjust="spacingAndGlyphs">10</text><text x="1895.9" y="49.5" font-size="33.60" stroke="none" textLength="29.6" lengthAdjust="spacingAndGlyphs">−</text><text x="1928.0" y="49.5" font-size="33.60" stroke-width="0.35" textLength="38.0" lengthAdjust="spacingAndGlyphs">11</text><text x="1838.4" y="151.9" font-size="48.0" textLength="54.3" lengthAdjust="spacingAndGlyphs">10</text><text x="1895.9" y="136.9" font-size="33.60" stroke="none" textLength="29.6" lengthAdjust="spacingAndGlyphs">−</text><text x="1928.0" y="136.9" font-size="33.60" stroke-width="0.35" textLength="38.0" lengthAdjust="spacingAndGlyphs">12</text><text x="1838.4" y="239.4" font-size="48.0" textLength="54.3" lengthAdjust="spacingAndGlyphs">10</text><text x="1895.9" y="224.4" font-size="33.60" stroke="none" textLength="29.6" lengthAdjust="spacingAndGlyphs">−</text><text x="1928.0" y="224.4" font-size="33.60" stroke-width="0.35" textLength="38.0" lengthAdjust="spacingAndGlyphs">13</text><text x="1838.4" y="326.8" font-size="48.0" textLength="54.3" lengthAdjust="spacingAndGlyphs">10</text><text x="1895.9" y="311.8" font-size="33.60" stroke="none" textLength="29.6" lengthAdjust="spacingAndGlyphs">−</text><text x="1928.0" y="311.8" font-size="33.60" stroke-width="0.35" textLength="38.0" lengthAdjust="spacingAndGlyphs">14</text><text x="1838.4" y="414.3" font-size="48.0" textLength="54.3" lengthAdjust="spacingAndGlyphs">10</text><text x="1895.9" y="399.3" font-size="33.60" stroke="none" textLength="29.6" lengthAdjust="spacingAndGlyphs">−</text><text x="1928.0" y="399.3" font-size="33.60" stroke-width="0.35" textLength="38.0" lengthAdjust="spacingAndGlyphs">15</text><text x="1838.4" y="501.7" font-size="48.0" textLength="54.3" lengthAdjust="spacingAndGlyphs">10</text><text x="1895.9" y="486.7" font-size="33.60" stroke="none" textLength="29.6" lengthAdjust="spacingAndGlyphs">−</text><text x="1928.0" y="486.7" font-size="33.60" stroke-width="0.35" textLength="38.0" lengthAdjust="spacingAndGlyphs">16</text><text x="1838.4" y="589.2" font-size="48.0" textLength="54.3" lengthAdjust="spacingAndGlyphs">10</text><text x="1895.9" y="574.2" font-size="33.60" stroke="none" textLength="29.6" lengthAdjust="spacingAndGlyphs">−</text><text x="1928.0" y="574.2" font-size="33.60" stroke-width="0.35" textLength="38.0" lengthAdjust="spacingAndGlyphs">17</text><text x="1838.4" y="676.6" font-size="48.0" textLength="54.3" lengthAdjust="spacingAndGlyphs">10</text><text x="1895.9" y="661.6" font-size="33.60" stroke="none" textLength="29.6" lengthAdjust="spacingAndGlyphs">−</text><text x="1928.0" y="661.6" font-size="33.60" stroke-width="0.35" textLength="38.0" lengthAdjust="spacingAndGlyphs">18</text><text x="1838.4" y="764.1" font-size="48.0" textLength="54.3" lengthAdjust="spacingAndGlyphs">10</text><text x="1895.9" y="749.1" font-size="33.60" stroke="none" textLength="29.6" lengthAdjust="spacingAndGlyphs">−</text><text x="1928.0" y="749.1" font-size="33.60" stroke-width="0.35" textLength="38.0" lengthAdjust="spacingAndGlyphs">19</text><text x="1838.4" y="851.5" font-size="48.0" textLength="54.3" lengthAdjust="spacingAndGlyphs">10</text><text x="1895.9" y="836.5" font-size="33.60" stroke="none" textLength="29.6" lengthAdjust="spacingAndGlyphs">−</text><text x="1928.0" y="836.5" font-size="33.60" stroke-width="0.35" textLength="38.0" lengthAdjust="spacingAndGlyphs">20</text><text x="1932.2" y="885.0" font-size="48.0" textLength="54.3" lengthAdjust="spacingAndGlyphs">10</text><text x="1989.7" y="870.0" font-size="33.60" stroke="none" textLength="29.6" lengthAdjust="spacingAndGlyphs">−</text><text x="2021.8" y="870.0" font-size="33.60" stroke-width="0.35" textLength="19.0" lengthAdjust="spacingAndGlyphs">3</text><text x="2148.7" y="885.0" font-size="48.0" textLength="54.3" lengthAdjust="spacingAndGlyphs">10</text><text x="2206.2" y="870.0" font-size="33.60" stroke="none" textLength="29.6" lengthAdjust="spacingAndGlyphs">−</text><text x="2238.3" y="870.0" font-size="33.60" stroke-width="0.35" textLength="19.0" lengthAdjust="spacingAndGlyphs">2</text><text x="2365.2" y="885.0" font-size="48.0" textLength="54.3" lengthAdjust="spacingAndGlyphs">10</text><text x="2422.7" y="870.0" font-size="33.60" stroke="none" textLength="29.6" lengthAdjust="spacingAndGlyphs">−</text><text x="2454.8" y="870.0" font-size="33.60" stroke-width="0.35" textLength="19.0" lengthAdjust="spacingAndGlyphs">1</text><text x="2597.7" y="885.0" font-size="48.0" textLength="54.3" lengthAdjust="spacingAndGlyphs">10</text><text x="2655.2" y="870.0" font-size="33.60" stroke-width="0.35" textLength="19.0" lengthAdjust="spacingAndGlyphs">0</text><text x="2814.2" y="885.0" font-size="48.0" textLength="54.3" lengthAdjust="spacingAndGlyphs">10</text><text x="2871.7" y="870.0" font-size="33.60" stroke-width="0.35" textLength="19.0" lengthAdjust="spacingAndGlyphs">1</text><text x="3030.7" y="885.0" font-size="48.0" textLength="54.3" lengthAdjust="spacingAndGlyphs">10</text><text x="3088.2" y="870.0" font-size="33.60" stroke-width="0.35" textLength="19.0" lengthAdjust="spacingAndGlyphs">2</text><text x="1733.1" y="65.5" font-size="54.0">(</text><text x="1752.6" y="64.0" font-size="48.0" textLength="30.2" lengthAdjust="spacingAndGlyphs">b</text><text x="1784.4" y="65.5" font-size="54.0">)</text><text x="2198.0" y="956.7" font-size="48.0" textLength="194.6" lengthAdjust="spacingAndGlyphs">Incident</text><text x="2412.7" y="956.7" font-size="48.0" textLength="155.5" lengthAdjust="spacingAndGlyphs">energy</text><text x="2572.2" y="968.7" font-size="69.0">/</text><text x="2596.9" y="958.2" font-size="54.0">(</text><text x="2616.5" y="956.7" font-size="48.0" textLength="114.6" lengthAdjust="spacingAndGlyphs">MeV</text><text x="2733.3" y="956.7" font-size="48.0">·</text><text x="2747.4" y="956.7" font-size="48.0" textLength="30.2" lengthAdjust="spacingAndGlyphs">u</text><text x="2780.8" y="941.7" font-size="33.60" stroke="none" textLength="29.6" lengthAdjust="spacingAndGlyphs">−</text><text x="2812.9" y="941.7" font-size="33.60" stroke-width="0.35" textLength="19.0" lengthAdjust="spacingAndGlyphs">1</text><text x="2833.4" y="958.2" font-size="54.0">)</text><g transform="translate(1787.8,748.5) rotate(-90)"><text x="0.0" y="0.0" font-size="48.0" textLength="112.3" lengthAdjust="spacingAndGlyphs">Rate</text><text x="132.4" y="0.0" font-size="48.0" textLength="236.8" lengthAdjust="spacingAndGlyphs">coefficient</text><text x="373.2" y="12.0" font-size="69.0">/</text><text x="398.0" y="1.5" font-size="54.0">(</text><text x="417.5" y="0.0" font-size="48.0" textLength="69.3" lengthAdjust="spacingAndGlyphs">cm</text><text x="490.1" y="-15.0" font-size="33.60" stroke-width="0.35" textLength="19.0" lengthAdjust="spacingAndGlyphs">3</text><text x="511.2" y="0.0" font-size="48.0">·</text><text x="525.3" y="0.0" font-size="48.0" textLength="21.4" lengthAdjust="spacingAndGlyphs">s</text><text x="549.9" y="-15.0" font-size="33.60" stroke="none" textLength="29.6" lengthAdjust="spacingAndGlyphs">−</text><text x="582.0" y="-15.0" font-size="33.60" stroke-width="0.35" textLength="19.0" lengthAdjust="spacingAndGlyphs">1</text><text x="602.6" y="1.5" font-size="54.0">)</text></g><path d="M2678.9,88.3 h78.8" stroke="#515151" stroke-width="2.9" fill="none"/><g transform="translate(2718.3,88.3)" fill="#515151" stroke="#515151" stroke-width="0"><rect x="-7.75" y="-7.75" width="15.5" height="15.5" rx="2.4" ry="2.4"/></g><text x="2776.9" y="101.9" font-size="48.0" textLength="48.5" lengthAdjust="spacingAndGlyphs">1s</text><text x="2828.6" y="86.9" font-size="33.60" stroke-width="0.35" textLength="19.0" lengthAdjust="spacingAndGlyphs">1</text><text x="2847.6" y="101.9" font-size="48.0" textLength="48.5" lengthAdjust="spacingAndGlyphs">2s</text><text x="2899.4" y="86.9" font-size="33.60" stroke-width="0.35" textLength="19.0" lengthAdjust="spacingAndGlyphs">2</text><text x="2918.4" y="101.9" font-size="48.0" textLength="57.3" lengthAdjust="spacingAndGlyphs">2p</text><text x="2978.9" y="86.9" font-size="33.60" stroke-width="0.35" textLength="19.0" lengthAdjust="spacingAndGlyphs">1</text><text x="2997.9" y="101.9" font-size="48.0" font-style="italic" textLength="32.6" lengthAdjust="spacingAndGlyphs">n</text><text x="3031.5" y="102.9" font-size="45.6" stroke-width="0.3">′</text><text x="3040.6" y="101.9" font-size="48.0" font-style="italic" textLength="16.2" lengthAdjust="spacingAndGlyphs">l</text><text x="3057.8" y="102.9" font-size="45.6" stroke-width="0.3">′</text><path d="M2678.9,147.3 h78.8" stroke="#F14040" stroke-width="2.9" fill="none"/><g transform="translate(2718.3,147.3)" fill="#F14040" stroke="#F14040" stroke-width="0"><circle r="8.7"/></g><text x="2776.9" y="160.9" font-size="48.0" textLength="48.5" lengthAdjust="spacingAndGlyphs">1s</text><text x="2828.6" y="145.9" font-size="33.60" stroke-width="0.35" textLength="19.0" lengthAdjust="spacingAndGlyphs">1</text><text x="2847.6" y="160.9" font-size="48.0" textLength="48.5" lengthAdjust="spacingAndGlyphs">2s</text><text x="2899.4" y="145.9" font-size="33.60" stroke-width="0.35" textLength="19.0" lengthAdjust="spacingAndGlyphs">2</text><text x="2918.4" y="160.9" font-size="48.0" textLength="27.1" lengthAdjust="spacingAndGlyphs">3</text><text x="2945.5" y="160.9" font-size="48.0" font-style="italic" textLength="48.8" lengthAdjust="spacingAndGlyphs">ln</text><text x="2995.3" y="161.9" font-size="45.6" stroke-width="0.3">′</text><text x="3004.4" y="160.9" font-size="48.0" font-style="italic" textLength="16.2" lengthAdjust="spacingAndGlyphs">l</text><text x="3021.5" y="161.9" font-size="45.6" stroke-width="0.3">′</text><path d="M2678.9,209.3 h78.8" stroke="#1A6FDF" stroke-width="2.9" fill="none"/><g transform="translate(2718.3,208.3)" fill="#1A6FDF" stroke="#1A6FDF" stroke-width="0"><path d="M0.00,-10.57 L9.15,5.28 L-9.15,5.28 Z" stroke-width="2.6" stroke-linejoin="round"/></g><text x="2776.9" y="219.9" font-size="48.0" textLength="48.5" lengthAdjust="spacingAndGlyphs">2s</text><text x="2828.6" y="204.9" font-size="33.60" stroke-width="0.35" textLength="19.0" lengthAdjust="spacingAndGlyphs">1</text><text x="2847.6" y="219.9" font-size="48.0" textLength="57.3" lengthAdjust="spacingAndGlyphs">2p</text><text x="2908.2" y="204.9" font-size="33.60" stroke-width="0.35" textLength="19.0" lengthAdjust="spacingAndGlyphs">1</text><text x="2927.2" y="219.9" font-size="48.0" font-style="italic" textLength="32.6" lengthAdjust="spacingAndGlyphs">n</text><text x="2960.8" y="220.9" font-size="45.6" stroke-width="0.3">′</text><text x="2969.8" y="219.9" font-size="48.0" font-style="italic" textLength="16.2" lengthAdjust="spacingAndGlyphs">l</text><text x="2987.0" y="220.9" font-size="45.6" stroke-width="0.3">′</text><path d="M2678.9,262.3 h78.8" stroke="#37AD6B" stroke-width="2.9" fill="none"/><g transform="translate(2718.3,263.3)" fill="#37AD6B" stroke="#37AD6B" stroke-width="0"><path d="M0.00,10.57 L9.15,-5.28 L-9.15,-5.28 Z" stroke-width="2.6" stroke-linejoin="round"/></g><text x="2776.9" y="278.9" font-size="48.0" textLength="48.5" lengthAdjust="spacingAndGlyphs">2s</text><text x="2828.6" y="263.9" font-size="33.60" stroke-width="0.35" textLength="19.0" lengthAdjust="spacingAndGlyphs">1</text><text x="2847.6" y="278.9" font-size="48.0" textLength="27.1" lengthAdjust="spacingAndGlyphs">3</text><text x="2874.8" y="278.9" font-size="48.0" font-style="italic" textLength="48.8" lengthAdjust="spacingAndGlyphs">ln</text><text x="2924.6" y="279.9" font-size="45.6" stroke-width="0.3">′</text><text x="2933.6" y="278.9" font-size="48.0" font-style="italic" textLength="16.2" lengthAdjust="spacingAndGlyphs">l</text><text x="2950.8" y="279.9" font-size="45.6" stroke-width="0.3">′</text><path d="M2678.9,324.3 h78.8" stroke="#B177DE" stroke-width="2.9" fill="none"/><g transform="translate(2718.3,324.3)" fill="#B177DE" stroke="#B177DE" stroke-width="0"><path d="M-0.00,-10.41 L8.98,0.00 L0.00,10.41 L-8.98,0.00 Z" stroke-width="2.6" stroke-linejoin="round"/></g><text x="2776.9" y="337.9" font-size="48.0" textLength="48.5" lengthAdjust="spacingAndGlyphs">2s</text><text x="2828.6" y="322.9" font-size="33.60" stroke-width="0.35" textLength="19.0" lengthAdjust="spacingAndGlyphs">1</text><text x="2847.6" y="337.9" font-size="48.0" textLength="27.1" lengthAdjust="spacingAndGlyphs">4</text><text x="2874.8" y="337.9" font-size="48.0" font-style="italic" textLength="48.8" lengthAdjust="spacingAndGlyphs">ln</text><text x="2924.6" y="338.9" font-size="45.6" stroke-width="0.3">′</text><text x="2933.6" y="337.9" font-size="48.0" font-style="italic" textLength="16.2" lengthAdjust="spacingAndGlyphs">l</text><text x="2950.8" y="338.9" font-size="45.6" stroke-width="0.3">′</text><path d="M2678.9,383.3 h78.8" stroke="#CC9900" stroke-width="2.9" fill="none"/><g transform="translate(2720.5,383.3)" fill="#CC9900" stroke="#CC9900" stroke-width="0"><path d="M-10.57,0.00 L5.28,-9.15 L5.28,9.15 Z" stroke-width="2.6" stroke-linejoin="round"/></g><text x="2776.9" y="396.9" font-size="48.0" textLength="48.5" lengthAdjust="spacingAndGlyphs">2s</text><text x="2828.6" y="381.9" font-size="33.60" stroke-width="0.35" textLength="19.0" lengthAdjust="spacingAndGlyphs">1</text><text x="2847.6" y="396.9" font-size="48.0" textLength="27.1" lengthAdjust="spacingAndGlyphs">5</text><text x="2874.8" y="396.9" font-size="48.0" font-style="italic" textLength="48.8" lengthAdjust="spacingAndGlyphs">ln</text><text x="2924.6" y="397.9" font-size="45.6" stroke-width="0.3">′</text><text x="2933.6" y="396.9" font-size="48.0" font-style="italic" textLength="16.2" lengthAdjust="spacingAndGlyphs">l</text><text x="2950.8" y="397.9" font-size="45.6" stroke-width="0.3">′</text><path d="M2678.9,442.3 h78.8" stroke="#00CBCC" stroke-width="2.9" fill="none"/><g transform="translate(2716.1,442.3)" fill="#00CBCC" stroke="#00CBCC" stroke-width="0"><path d="M10.57,0.00 L-5.28,-9.15 L-5.28,9.15 Z" stroke-width="2.6" stroke-linejoin="round"/></g><text x="2776.9" y="455.9" font-size="48.0" textLength="129.7" lengthAdjust="spacingAndGlyphs">Total</text></g><clipPath id="cp_c"><rect x="494" y="1062.5" width="1082.5" height="787.0"/></clipPath><path d="M559.2,1849.5 v-8 M597.3,1849.5 v-8 M624.3,1849.5 v-8 M645.3,1849.5 v-8 M662.5,1849.5 v-8 M677.0,1849.5 v-8 M689.5,1849.5 v-8 M700.6,1849.5 v-8 M775.7,1849.5 v-8 M813.8,1849.5 v-8 M840.8,1849.5 v-8 M861.8,1849.5 v-8 M879.0,1849.5 v-8 M893.5,1849.5 v-8 M906.0,1849.5 v-8 M917.1,1849.5 v-8 M710.5,1849.5 v-15.5 M992.2,1849.5 v-8 M1030.3,1849.5 v-8 M1057.3,1849.5 v-8 M1078.3,1849.5 v-8 M1095.5,1849.5 v-8 M1110.0,1849.5 v-8 M1122.5,1849.5 v-8 M1133.6,1849.5 v-8 M927.0,1849.5 v-15.5 M1208.7,1849.5 v-8 M1246.8,1849.5 v-8 M1273.8,1849.5 v-8 M1294.8,1849.5 v-8 M1312.0,1849.5 v-8 M1326.5,1849.5 v-8 M1339.0,1849.5 v-8 M1350.1,1849.5 v-8 M1143.5,1849.5 v-15.5 M1425.2,1849.5 v-8 M1463.3,1849.5 v-8 M1490.3,1849.5 v-8 M1511.3,1849.5 v-8 M1528.5,1849.5 v-8 M1543.0,1849.5 v-8 M1555.5,1849.5 v-8 M1566.6,1849.5 v-8 M1360.0,1849.5 v-15.5 M494,1831.3 h8 M494,1820.6 h8 M494,1813.1 h8 M494,1807.2 h8 M494,1802.4 h8 M494,1798.3 h8 M494,1794.8 h8 M494,1791.7 h8 M494,1770.7 h8 M494,1760.1 h8 M494,1752.5 h8 M494,1746.6 h8 M494,1741.9 h8 M494,1737.8 h8 M494,1734.3 h8 M494,1731.2 h8 M494,1789.0 h15.5 M494,1710.2 h8 M494,1699.5 h8 M494,1692.0 h8 M494,1686.1 h8 M494,1681.3 h8 M494,1677.3 h8 M494,1673.8 h8 M494,1670.7 h8 M494,1728.4 h15.5 M494,1649.7 h8 M494,1639.0 h8 M494,1631.4 h8 M494,1625.6 h8 M494,1620.8 h8 M494,1616.7 h8 M494,1613.2 h8 M494,1610.1 h8 M494,1667.9 h15.5 M494,1589.1 h8 M494,1578.5 h8 M494,1570.9 h8 M494,1565.0 h8 M494,1560.2 h8 M494,1556.2 h8 M494,1552.7 h8 M494,1549.6 h8 M494,1607.3 h15.5 M494,1528.6 h8 M494,1517.9 h8 M494,1510.4 h8 M494,1504.5 h8 M494,1499.7 h8 M494,1495.6 h8 M494,1492.1 h8 M494,1489.0 h8 M494,1546.8 h15.5 M494,1468.0 h8 M494,1457.4 h8 M494,1449.8 h8 M494,1444.0 h8 M494,1439.2 h8 M494,1435.1 h8 M494,1431.6 h8 M494,1428.5 h8 M494,1486.3 h15.5 M494,1407.5 h8 M494,1396.8 h8 M494,1389.3 h8 M494,1383.4 h8 M494,1378.6 h8 M494,1374.6 h8 M494,1371.1 h8 M494,1368.0 h8 M494,1425.7 h15.5 M494,1347.0 h8 M494,1336.3 h8 M494,1328.7 h8 M494,1322.9 h8 M494,1318.1 h8 M494,1314.0 h8 M494,1310.5 h8 M494,1307.4 h8 M494,1365.2 h15.5 M494,1286.4 h8 M494,1275.8 h8 M494,1268.2 h8 M494,1262.3 h8 M494,1257.5 h8 M494,1253.5 h8 M494,1250.0 h8 M494,1246.9 h8 M494,1304.7 h15.5 M494,1225.9 h8 M494,1215.2 h8 M494,1207.7 h8 M494,1201.8 h8 M494,1197.0 h8 M494,1193.0 h8 M494,1189.4 h8 M494,1186.3 h8 M494,1244.1 h15.5 M494,1165.4 h8 M494,1154.7 h8 M494,1147.1 h8 M494,1141.3 h8 M494,1136.5 h8 M494,1132.4 h8 M494,1128.9 h8 M494,1125.8 h8 M494,1183.6 h15.5 M494,1104.8 h8 M494,1094.2 h8 M494,1086.6 h8 M494,1080.7 h8 M494,1075.9 h8 M494,1071.9 h8 M494,1068.4 h8 M494,1065.3 h8 M494,1123.0 h15.5" stroke="#000" stroke-width="2.6" fill="none" stroke-linecap="round"/><rect x="494" y="1062.5" width="1082.5" height="787.0" fill="none" stroke="#000" stroke-width="3.2"/><g clip-path="url(#cp_c)" fill="none" stroke-width="2.9" stroke-linejoin="round"><path d="M1136.7,1444.6L1138.0,1449.1M1143.5,1473.1L1146.6,1489.5M1151.3,1513.7L1154.1,1527.9M1158.5,1552.1L1162.3,1575.5M1166.0,1599.8L1170.1,1627.8M1173.3,1652.2L1178.2,1697.3M1181.0,1721.7L1185.9,1764.0M1188.3,1788.4L1193.9,1856.0" stroke="#515151"/><polyline points="742.0,1851.4 749.7,1842.3 757.3,1833.3 765.0,1824.2 772.7,1815.2 780.4,1806.3 788.0,1797.3 795.7,1788.1 803.4,1778.5 811.1,1768.7 818.7,1758.5 826.4,1748.0 834.1,1736.8 841.8,1725.1 849.5,1712.9 857.1,1700.8 864.8,1688.5 872.5,1676.0 880.2,1663.5 887.8,1651.5 895.5,1640.3 903.2,1628.9 910.9,1615.5 918.6,1600.3 926.2,1586.1 933.9,1572.4 941.6,1558.3 949.3,1544.6 956.9,1530.0 964.6,1515.0 972.3,1501.0 980.0,1486.5 987.6,1472.0 995.3,1458.2 1003.0,1444.0 1010.7,1432.0 1018.4,1421.1 1026.0,1412.8 1033.7,1404.8 1041.4,1395.5 1049.1,1382.9 1056.7,1374.6 1064.4,1368.7 1072.1,1364.8 1079.8,1362.8 1087.5,1362.1 1095.1,1365.1 1102.8,1370.8 1110.5,1380.9 1118.2,1395.1 1125.8,1411.3 1133.5,1432.8 1141.2,1461.0 1148.9,1501.6 1156.5,1540.0 1164.2,1587.7 1171.9,1640.0 1179.6,1709.5 1187.3,1776.2 1194.9,1868.2" stroke="none" marker-start="url(#m_gray)" marker-mid="url(#m_gray)" marker-end="url(#m_gray)"/><path d="M1144.0,1512.0L1146.1,1520.9M1151.2,1545.0L1154.2,1560.9M1159.1,1585.1L1161.7,1597.8M1166.1,1622.0L1170.0,1647.9M1173.5,1672.3L1177.9,1705.1M1181.1,1729.5L1185.8,1767.8M1188.6,1792.2L1193.6,1839.8M1196.2,1864.3L1201.3,1912.1" stroke="#F14040"/><polyline points="857.1,1850.4 864.8,1835.6 872.5,1821.2 880.2,1807.2 887.8,1793.3 895.5,1778.8 903.2,1763.9 910.9,1748.6 918.6,1733.0 926.2,1716.9 933.9,1701.0 941.6,1685.8 949.3,1670.0 956.9,1652.3 964.6,1634.4 972.3,1617.4 980.0,1600.7 987.6,1583.8 995.3,1567.3 1003.0,1551.0 1010.7,1535.0 1018.4,1519.3 1026.0,1504.4 1033.7,1490.7 1041.4,1478.1 1049.1,1466.4 1056.7,1456.2 1064.4,1447.3 1072.1,1440.8 1079.8,1436.0 1087.5,1434.1 1095.1,1433.3 1102.8,1436.0 1110.5,1442.0 1118.2,1451.0 1125.8,1463.3 1133.5,1479.0 1141.2,1500.0 1148.9,1532.9 1156.5,1573.0 1164.2,1609.9 1171.9,1660.1 1179.6,1717.3 1187.3,1780.0 1194.9,1852.0 1202.6,1924.3" stroke="none" marker-start="url(#m_red)" marker-mid="url(#m_red)" marker-end="url(#m_red)"/><path d="M983.6,1327.6L984.0,1329.0M989.9,1352.9L993.1,1370.7M999.1,1394.5L999.2,1395.0M1022.1,1456.6L1022.3,1457.2M1029.0,1480.8L1030.7,1487.7M1036.4,1511.6L1038.7,1522.2M1044.2,1546.2L1046.3,1555.5M1051.5,1579.5L1054.3,1592.8M1059.0,1617.0L1062.1,1633.5M1066.8,1657.6L1069.7,1672.9M1074.4,1697.1L1077.5,1712.9M1081.2,1737.2L1086.0,1777.6M1088.4,1802.1L1094.1,1872.5" stroke="#1A6FDF"/><polyline points="488.6,1116.3 496.3,1116.4 504.0,1116.4 511.7,1116.5 519.3,1116.6 527.0,1116.8 534.7,1117.0 542.4,1117.2 550.0,1117.4 557.7,1117.6 565.4,1117.8 573.1,1118.2 580.8,1118.5 588.4,1119.0 596.1,1119.4 603.8,1120.0 611.5,1120.6 619.1,1121.2 626.8,1121.8 634.5,1122.5 642.2,1123.1 649.8,1123.9 657.5,1124.7 665.2,1125.5 672.9,1126.5 680.6,1127.5 688.2,1128.5 695.9,1129.6 703.6,1130.8 711.3,1132.0 718.9,1133.3 726.6,1134.6 734.3,1136.0 742.0,1137.6 749.7,1139.3 757.3,1141.1 765.0,1143.0 772.7,1145.0 780.4,1147.1 788.0,1149.3 795.7,1151.8 803.4,1154.4 811.1,1157.2 818.7,1160.1 826.4,1163.2 834.1,1166.5 841.8,1170.1 849.5,1173.9 857.1,1178.0 864.8,1182.4 872.5,1187.0 880.2,1191.9 887.8,1197.0 895.5,1202.7 903.2,1208.9 910.9,1215.7 918.6,1223.2 926.2,1231.4 933.9,1240.5 941.6,1250.2 949.3,1260.7 956.9,1272.2 964.6,1285.2 972.3,1299.2 980.0,1315.9 987.6,1340.8 995.3,1382.8 1003.0,1406.7 1010.7,1424.9 1018.4,1444.9 1026.0,1468.9 1033.7,1499.6 1041.4,1534.2 1049.1,1567.5 1056.7,1604.9 1064.4,1645.6 1072.1,1685.0 1079.8,1725.0 1087.5,1789.8 1095.1,1884.7" stroke="none" marker-start="url(#m_blue)" marker-mid="url(#m_blue)" marker-end="url(#m_blue)"/><path d="M1037.0,1456.1L1038.1,1460.3M1052.6,1507.2L1053.2,1509.2M1059.7,1532.9L1061.5,1540.4M1066.8,1564.4L1069.7,1579.7M1074.4,1603.8L1077.5,1619.9M1082.1,1644.0L1085.1,1659.1M1089.4,1683.3L1093.2,1706.7M1096.9,1731.0L1101.0,1758.9M1104.5,1783.2L1108.8,1813.0M1111.7,1837.5L1116.9,1888.2" stroke="#37AD6B"/><polyline points="488.6,1279.3 496.3,1279.0 504.0,1278.9 511.7,1278.6 519.3,1278.4 527.0,1278.2 534.7,1278.0 542.4,1277.7 550.0,1277.5 557.7,1277.2 565.4,1277.0 573.1,1276.7 580.8,1276.4 588.4,1276.1 596.1,1275.8 603.8,1275.5 611.5,1275.2 619.1,1274.9 626.8,1274.6 634.5,1274.2 642.2,1273.8 649.8,1273.4 657.5,1272.9 665.2,1272.5 672.9,1272.0 680.6,1271.6 688.2,1271.2 695.9,1270.8 703.6,1270.4 711.3,1270.1 718.9,1269.8 726.6,1269.6 734.3,1269.3 742.0,1269.1 749.7,1268.8 757.3,1268.6 765.0,1268.4 772.7,1268.2 780.4,1268.0 788.0,1267.9 795.7,1267.8 803.4,1267.8 811.1,1267.9 818.7,1268.1 826.4,1268.5 834.1,1269.0 841.8,1269.6 849.5,1270.2 857.1,1271.0 864.8,1272.0 872.5,1273.5 880.2,1275.3 887.8,1277.4 895.5,1280.2 903.2,1283.4 910.9,1287.0 918.6,1290.9 926.2,1295.3 933.9,1300.3 941.6,1306.1 949.3,1313.0 956.9,1321.0 964.6,1329.6 972.3,1339.1 980.0,1349.6 987.6,1361.1 995.3,1373.6 1003.0,1388.0 1010.7,1401.7 1018.4,1414.2 1026.0,1427.4 1033.7,1444.2 1041.4,1472.1 1049.1,1495.4 1056.7,1521.0 1064.4,1552.4 1072.1,1591.8 1079.8,1632.0 1087.5,1671.1 1095.1,1718.8 1102.8,1771.1 1110.5,1825.2 1118.2,1900.4" stroke="none" marker-start="url(#m_green)" marker-mid="url(#m_green)" marker-end="url(#m_green)"/><path d="M1052.6,1644.9L1053.2,1646.9M1060.1,1670.6L1061.1,1674.4M1067.5,1698.1L1069.0,1704.3M1074.9,1728.2L1076.9,1736.7M1082.5,1760.7L1084.7,1770.7M1089.6,1794.8L1092.9,1813.1M1097.3,1837.3L1100.7,1856.3" stroke="#B177DE"/><polyline points="488.6,1503.0 496.3,1502.3 504.0,1501.8 511.7,1501.2 519.3,1500.6 527.0,1500.0 534.7,1499.4 542.4,1498.7 550.0,1498.0 557.7,1497.3 565.4,1496.6 573.1,1495.9 580.8,1495.2 588.4,1494.4 596.1,1493.6 603.8,1492.8 611.5,1492.0 619.1,1491.1 626.8,1490.2 634.5,1489.3 642.2,1488.3 649.8,1487.4 657.5,1486.4 665.2,1485.5 672.9,1484.6 680.6,1483.6 688.2,1482.7 695.9,1481.7 703.6,1480.7 711.3,1479.8 718.9,1478.8 726.6,1477.8 734.3,1476.9 742.0,1475.9 749.7,1474.9 757.3,1473.9 765.0,1472.9 772.7,1472.0 780.4,1471.1 788.0,1470.2 795.7,1469.3 803.4,1468.4 811.1,1467.6 818.7,1466.8 826.4,1466.1 834.1,1465.5 841.8,1465.1 849.5,1464.7 857.1,1464.4 864.8,1464.1 872.5,1463.9 880.2,1463.8 887.8,1464.1 895.5,1464.8 903.2,1465.9 910.9,1467.0 918.6,1468.5 926.2,1470.4 933.9,1472.8 941.6,1476.0 949.3,1480.4 956.9,1486.0 964.6,1492.6 972.3,1502.3 980.0,1510.7 987.6,1518.6 995.3,1527.1 1003.0,1536.5 1010.7,1547.3 1018.4,1559.6 1026.0,1574.8 1033.7,1593.2 1041.4,1611.9 1049.1,1633.1 1056.7,1658.7 1064.4,1686.2 1072.1,1716.2 1079.8,1748.7 1087.5,1782.7 1095.1,1825.2 1102.8,1868.4" stroke="none" marker-start="url(#m_purple)" marker-mid="url(#m_purple)" marker-end="url(#m_purple)"/><path d="M1052.6,1720.2L1053.2,1721.9M1060.3,1745.5L1060.9,1747.5M1067.3,1771.3L1069.2,1779.2M1074.9,1803.1L1077.0,1812.1M1082.3,1836.2L1085.0,1849.2" stroke="#CC9900"/><polyline points="488.6,1601.1 496.3,1600.4 504.0,1599.8 511.7,1599.1 519.3,1598.4 527.0,1597.6 534.7,1596.9 542.4,1596.1 550.0,1595.3 557.7,1594.5 565.4,1593.7 573.1,1592.9 580.8,1592.0 588.4,1591.1 596.1,1590.2 603.8,1589.3 611.5,1588.3 619.1,1587.3 626.8,1586.3 634.5,1585.3 642.2,1584.2 649.8,1583.1 657.5,1582.1 665.2,1581.0 672.9,1579.9 680.6,1578.8 688.2,1577.6 695.9,1576.5 703.6,1575.3 711.3,1574.1 718.9,1573.0 726.6,1571.8 734.3,1570.6 742.0,1569.5 749.7,1568.3 757.3,1567.1 765.0,1566.0 772.7,1564.9 780.4,1563.8 788.0,1562.7 795.7,1561.7 803.4,1560.7 811.1,1559.7 818.7,1558.7 826.4,1557.8 834.1,1556.9 841.8,1556.1 849.5,1555.2 857.1,1554.4 864.8,1553.6 872.5,1553.0 880.2,1552.8 887.8,1552.9 895.5,1553.1 903.2,1553.4 910.9,1553.8 918.6,1554.6 926.2,1555.8 933.9,1557.3 941.6,1559.1 949.3,1561.6 956.9,1565.0 964.6,1569.8 972.3,1580.4 980.0,1588.2 987.6,1594.6 995.3,1600.7 1003.0,1609.7 1010.7,1622.8 1018.4,1635.5 1026.0,1649.4 1033.7,1666.3 1041.4,1687.4 1049.1,1708.4 1056.7,1733.7 1064.4,1759.3 1072.1,1791.1 1079.8,1824.1 1087.5,1861.2" stroke="none" marker-start="url(#m_gold)" marker-mid="url(#m_gold)" marker-end="url(#m_gold)"/><path d="M1138.6,1446.5L1140.1,1452.6M1145.5,1476.6L1148.6,1493.5M1153.2,1517.6L1156.2,1532.7M1160.5,1557.0L1164.3,1581.3M1168.0,1605.7L1172.2,1635.3M1175.2,1659.7L1180.3,1706.1M1183.0,1730.6L1187.9,1773.8M1190.2,1798.2L1195.9,1869.0" stroke="#00CBCC"/><polyline points="490.6,1117.3 498.3,1117.4 506.0,1117.5 513.7,1117.5 521.3,1117.7 529.0,1117.8 536.7,1118.0 544.4,1118.2 552.0,1118.4 559.7,1118.7 567.4,1118.9 575.1,1119.2 582.8,1119.6 590.4,1120.1 598.1,1120.6 605.8,1121.1 613.5,1121.7 621.1,1122.3 628.8,1123.0 636.5,1123.6 644.2,1124.3 651.8,1125.1 659.5,1125.9 667.2,1126.8 674.9,1127.7 682.6,1128.7 690.2,1129.8 697.9,1130.9 705.6,1132.1 713.3,1133.3 720.9,1134.6 728.6,1136.0 736.3,1137.4 744.0,1139.0 751.7,1140.7 759.3,1142.6 767.0,1144.5 774.7,1146.5 782.4,1148.7 790.0,1151.0 797.7,1153.4 805.4,1156.1 813.1,1158.9 820.7,1161.9 828.4,1165.1 836.1,1168.4 843.8,1172.1 851.5,1176.0 859.1,1180.2 866.8,1184.6 874.5,1189.3 882.2,1194.2 889.8,1199.4 897.5,1205.2 905.2,1211.6 912.9,1218.6 920.6,1226.3 928.2,1234.7 935.9,1243.9 943.6,1254.0 951.3,1265.1 958.9,1277.1 966.6,1289.5 974.3,1302.5 982.0,1316.1 989.6,1330.8 997.3,1347.1 1005.0,1364.9 1012.7,1382.2 1020.4,1393.0 1028.0,1396.9 1035.7,1393.1 1043.4,1386.3 1051.1,1378.6 1058.7,1371.7 1066.4,1365.8 1074.1,1362.4 1081.8,1360.5 1089.5,1360.4 1097.1,1363.8 1104.8,1370.1 1112.5,1380.9 1120.2,1395.4 1127.8,1412.2 1135.5,1434.6 1143.2,1464.5 1150.9,1505.6 1158.5,1544.8 1166.2,1593.5 1173.9,1647.4 1181.6,1718.4 1189.3,1786.0 1196.9,1881.3" stroke="none" marker-start="url(#m_cyan)" marker-mid="url(#m_cyan)" marker-end="url(#m_cyan)"/></g><g font-family='"Liberation Serif", serif' fill="#000" stroke="#fff" stroke-width="0.6"><text x="364.4" y="1084.5" font-size="48.0" textLength="54.3" lengthAdjust="spacingAndGlyphs">10</text><text x="421.9" y="1069.5" font-size="33.60" stroke="none" textLength="29.6" lengthAdjust="spacingAndGlyphs">−</text><text x="454.0" y="1069.5" font-size="33.60" stroke-width="0.35" textLength="19.0" lengthAdjust="spacingAndGlyphs">7</text><text x="364.4" y="1145.0" font-size="48.0" textLength="54.3" lengthAdjust="spacingAndGlyphs">10</text><text x="421.9" y="1130.0" font-size="33.60" stroke="none" textLength="29.6" lengthAdjust="spacingAndGlyphs">−</text><text x="454.0" y="1130.0" font-size="33.60" stroke-width="0.35" textLength="19.0" lengthAdjust="spacingAndGlyphs">8</text><text x="364.4" y="1205.6" font-size="48.0" textLength="54.3" lengthAdjust="spacingAndGlyphs">10</text><text x="421.9" y="1190.6" font-size="33.60" stroke="none" textLength="29.6" lengthAdjust="spacingAndGlyphs">−</text><text x="454.0" y="1190.6" font-size="33.60" stroke-width="0.35" textLength="19.0" lengthAdjust="spacingAndGlyphs">9</text><text x="345.4" y="1266.1" font-size="48.0" textLength="54.3" lengthAdjust="spacingAndGlyphs">10</text><text x="402.9" y="1251.1" font-size="33.60" stroke="none" textLength="29.6" lengthAdjust="spacingAndGlyphs">−</text><text x="435.0" y="1251.1" font-size="33.60" stroke-width="0.35" textLength="38.0" lengthAdjust="spacingAndGlyphs">10</text><text x="345.4" y="1326.7" font-size="48.0" textLength="54.3" lengthAdjust="spacingAndGlyphs">10</text><text x="402.9" y="1311.7" font-size="33.60" stroke="none" textLength="29.6" lengthAdjust="spacingAndGlyphs">−</text><text x="435.0" y="1311.7" font-size="33.60" stroke-width="0.35" textLength="38.0" lengthAdjust="spacingAndGlyphs">11</text><text x="345.4" y="1387.2" font-size="48.0" textLength="54.3" lengthAdjust="spacingAndGlyphs">10</text><text x="402.9" y="1372.2" font-size="33.60" stroke="none" textLength="29.6" lengthAdjust="spacingAndGlyphs">−</text><text x="435.0" y="1372.2" font-size="33.60" stroke-width="0.35" textLength="38.0" lengthAdjust="spacingAndGlyphs">12</text><text x="345.4" y="1447.7" font-size="48.0" textLength="54.3" lengthAdjust="spacingAndGlyphs">10</text><text x="402.9" y="1432.7" font-size="33.60" stroke="none" textLength="29.6" lengthAdjust="spacingAndGlyphs">−</text><text x="435.0" y="1432.7" font-size="33.60" stroke-width="0.35" textLength="38.0" lengthAdjust="spacingAndGlyphs">13</text><text x="345.4" y="1508.3" font-size="48.0" textLength="54.3" lengthAdjust="spacingAndGlyphs">10</text><text x="402.9" y="1493.3" font-size="33.60" stroke="none" textLength="29.6" lengthAdjust="spacingAndGlyphs">−</text><text x="435.0" y="1493.3" font-size="33.60" stroke-width="0.35" textLength="38.0" lengthAdjust="spacingAndGlyphs">14</text><text x="345.4" y="1568.8" font-size="48.0" textLength="54.3" lengthAdjust="spacingAndGlyphs">10</text><text x="402.9" y="1553.8" font-size="33.60" stroke="none" textLength="29.6" lengthAdjust="spacingAndGlyphs">−</text><text x="435.0" y="1553.8" font-size="33.60" stroke-width="0.35" textLength="38.0" lengthAdjust="spacingAndGlyphs">15</text><text x="345.4" y="1629.3" font-size="48.0" textLength="54.3" lengthAdjust="spacingAndGlyphs">10</text><text x="402.9" y="1614.3" font-size="33.60" stroke="none" textLength="29.6" lengthAdjust="spacingAndGlyphs">−</text><text x="435.0" y="1614.3" font-size="33.60" stroke-width="0.35" textLength="38.0" lengthAdjust="spacingAndGlyphs">16</text><text x="345.4" y="1689.9" font-size="48.0" textLength="54.3" lengthAdjust="spacingAndGlyphs">10</text><text x="402.9" y="1674.9" font-size="33.60" stroke="none" textLength="29.6" lengthAdjust="spacingAndGlyphs">−</text><text x="435.0" y="1674.9" font-size="33.60" stroke-width="0.35" textLength="38.0" lengthAdjust="spacingAndGlyphs">17</text><text x="345.4" y="1750.4" font-size="48.0" textLength="54.3" lengthAdjust="spacingAndGlyphs">10</text><text x="402.9" y="1735.4" font-size="33.60" stroke="none" textLength="29.6" lengthAdjust="spacingAndGlyphs">−</text><text x="435.0" y="1735.4" font-size="33.60" stroke-width="0.35" textLength="38.0" lengthAdjust="spacingAndGlyphs">18</text><text x="345.4" y="1811.0" font-size="48.0" textLength="54.3" lengthAdjust="spacingAndGlyphs">10</text><text x="402.9" y="1796.0" font-size="33.60" stroke="none" textLength="29.6" lengthAdjust="spacingAndGlyphs">−</text><text x="435.0" y="1796.0" font-size="33.60" stroke-width="0.35" textLength="38.0" lengthAdjust="spacingAndGlyphs">19</text><text x="345.4" y="1871.5" font-size="48.0" textLength="54.3" lengthAdjust="spacingAndGlyphs">10</text><text x="402.9" y="1856.5" font-size="33.60" stroke="none" textLength="29.6" lengthAdjust="spacingAndGlyphs">−</text><text x="435.0" y="1856.5" font-size="33.60" stroke-width="0.35" textLength="38.0" lengthAdjust="spacingAndGlyphs">20</text><text x="439.2" y="1905.0" font-size="48.0" textLength="54.3" lengthAdjust="spacingAndGlyphs">10</text><text x="496.7" y="1890.0" font-size="33.60" stroke="none" textLength="29.6" lengthAdjust="spacingAndGlyphs">−</text><text x="528.8" y="1890.0" font-size="33.60" stroke-width="0.35" textLength="19.0" lengthAdjust="spacingAndGlyphs">3</text><text x="655.7" y="1905.0" font-size="48.0" textLength="54.3" lengthAdjust="spacingAndGlyphs">10</text><text x="713.2" y="1890.0" font-size="33.60" stroke="none" textLength="29.6" lengthAdjust="spacingAndGlyphs">−</text><text x="745.3" y="1890.0" font-size="33.60" stroke-width="0.35" textLength="19.0" lengthAdjust="spacingAndGlyphs">2</text><text x="872.2" y="1905.0" font-size="48.0" textLength="54.3" lengthAdjust="spacingAndGlyphs">10</text><text x="929.7" y="1890.0" font-size="33.60" stroke="none" textLength="29.6" lengthAdjust="spacingAndGlyphs">−</text><text x="961.8" y="1890.0" font-size="33.60" stroke-width="0.35" textLength="19.0" lengthAdjust="spacingAndGlyphs">1</text><text x="1104.7" y="1905.0" font-size="48.0" textLength="54.3" lengthAdjust="spacingAndGlyphs">10</text><text x="1162.2" y="1890.0" font-size="33.60" stroke-width="0.35" textLength="19.0" lengthAdjust="spacingAndGlyphs">0</text><text x="1321.2" y="1905.0" font-size="48.0" textLength="54.3" lengthAdjust="spacingAndGlyphs">10</text><text x="1378.7" y="1890.0" font-size="33.60" stroke-width="0.35" textLength="19.0" lengthAdjust="spacingAndGlyphs">1</text><text x="1537.7" y="1905.0" font-size="48.0" textLength="54.3" lengthAdjust="spacingAndGlyphs">10</text><text x="1595.2" y="1890.0" font-size="33.60" stroke-width="0.35" textLength="19.0" lengthAdjust="spacingAndGlyphs">2</text><text x="240.1" y="1085.5" font-size="54.0">(</text><text x="259.6" y="1084.0" font-size="48.0" textLength="24.1" lengthAdjust="spacingAndGlyphs">c</text><text x="285.3" y="1085.5" font-size="54.0">)</text><text x="705.0" y="1976.7" font-size="48.0" textLength="194.6" lengthAdjust="spacingAndGlyphs">Incident</text><text x="919.7" y="1976.7" font-size="48.0" textLength="155.5" lengthAdjust="spacingAndGlyphs">energy</text><text x="1079.2" y="1988.7" font-size="69.0">/</text><text x="1103.9" y="1978.2" font-size="54.0">(</text><text x="1123.5" y="1976.7" font-size="48.0" textLength="114.6" lengthAdjust="spacingAndGlyphs">MeV</text><text x="1240.3" y="1976.7" font-size="48.0">·</text><text x="1254.4" y="1976.7" font-size="48.0" textLength="30.2" lengthAdjust="spacingAndGlyphs">u</text><text x="1287.8" y="1961.7" font-size="33.60" stroke="none" textLength="29.6" lengthAdjust="spacingAndGlyphs">−</text><text x="1319.9" y="1961.7" font-size="33.60" stroke-width="0.35" textLength="19.0" lengthAdjust="spacingAndGlyphs">1</text><text x="1340.4" y="1978.2" font-size="54.0">)</text><g transform="translate(294.8,1768.5) rotate(-90)"><text x="0.0" y="0.0" font-size="48.0" textLength="112.3" lengthAdjust="spacingAndGlyphs">Rate</text><text x="132.4" y="0.0" font-size="48.0" textLength="236.8" lengthAdjust="spacingAndGlyphs">coefficient</text><text x="373.2" y="12.0" font-size="69.0">/</text><text x="398.0" y="1.5" font-size="54.0">(</text><text x="417.5" y="0.0" font-size="48.0" textLength="69.3" lengthAdjust="spacingAndGlyphs">cm</text><text x="490.1" y="-15.0" font-size="33.60" stroke-width="0.35" textLength="19.0" lengthAdjust="spacingAndGlyphs">3</text><text x="511.2" y="0.0" font-size="48.0">·</text><text x="525.3" y="0.0" font-size="48.0" textLength="21.4" lengthAdjust="spacingAndGlyphs">s</text><text x="549.9" y="-15.0" font-size="33.60" stroke="none" textLength="29.6" lengthAdjust="spacingAndGlyphs">−</text><text x="582.0" y="-15.0" font-size="33.60" stroke-width="0.35" textLength="19.0" lengthAdjust="spacingAndGlyphs">1</text><text x="602.6" y="1.5" font-size="54.0">)</text></g><path d="M1186,1108.3 h78.8" stroke="#515151" stroke-width="2.9" fill="none"/><g transform="translate(1225.4,1108.3)" fill="#515151" stroke="#515151" stroke-width="0"><rect x="-7.75" y="-7.75" width="15.5" height="15.5" rx="2.4" ry="2.4"/></g><text x="1277.0" y="1121.9" font-size="48.0" textLength="48.5" lengthAdjust="spacingAndGlyphs">1s</text><text x="1328.7" y="1106.9" font-size="33.60" stroke-width="0.35" textLength="19.0" lengthAdjust="spacingAndGlyphs">1</text><text x="1347.7" y="1121.9" font-size="48.0" textLength="48.5" lengthAdjust="spacingAndGlyphs">2s</text><text x="1399.5" y="1106.9" font-size="33.60" stroke-width="0.35" textLength="19.0" lengthAdjust="spacingAndGlyphs">1</text><text x="1418.5" y="1121.9" font-size="48.0" textLength="57.3" lengthAdjust="spacingAndGlyphs">2p</text><text x="1479.0" y="1106.9" font-size="33.60" stroke-width="0.35" textLength="19.0" lengthAdjust="spacingAndGlyphs">1</text><text x="1498.0" y="1121.9" font-size="48.0" font-style="italic" textLength="32.6" lengthAdjust="spacingAndGlyphs">n</text><text x="1531.6" y="1122.9" font-size="45.6" stroke-width="0.3">′</text><text x="1540.7" y="1121.9" font-size="48.0" font-style="italic" textLength="16.2" lengthAdjust="spacingAndGlyphs">l</text><text x="1557.9" y="1122.9" font-size="45.6" stroke-width="0.3">′</text><path d="M1186,1167.3 h78.8" stroke="#F14040" stroke-width="2.9" fill="none"/><g transform="translate(1225.4,1167.3)" fill="#F14040" stroke="#F14040" stroke-width="0"><circle r="8.7"/></g><text x="1277.0" y="1180.9" font-size="48.0" textLength="48.5" lengthAdjust="spacingAndGlyphs">1s</text><text x="1328.7" y="1165.9" font-size="33.60" stroke-width="0.35" textLength="19.0" lengthAdjust="spacingAndGlyphs">1</text><text x="1347.7" y="1180.9" font-size="48.0" textLength="48.5" lengthAdjust="spacingAndGlyphs">2s</text><text x="1399.5" y="1165.9" font-size="33.60" stroke-width="0.35" textLength="19.0" lengthAdjust="spacingAndGlyphs">1</text><text x="1418.5" y="1180.9" font-size="48.0" textLength="27.1" lengthAdjust="spacingAndGlyphs">3</text><text x="1445.6" y="1180.9" font-size="48.0" font-style="italic" textLength="48.8" lengthAdjust="spacingAndGlyphs">ln</text><text x="1495.4" y="1181.9" font-size="45.6" stroke-width="0.3">′</text><text x="1504.5" y="1180.9" font-size="48.0" font-style="italic" textLength="16.2" lengthAdjust="spacingAndGlyphs">l</text><text x="1521.6" y="1181.9" font-size="45.6" stroke-width="0.3">′</text><path d="M1186,1229.3 h78.8" stroke="#1A6FDF" stroke-width="2.9" fill="none"/><g transform="translate(1225.4,1228.3)" fill="#1A6FDF" stroke="#1A6FDF" stroke-width="0"><path d="M0.00,-10.57 L9.15,5.28 L-9.15,5.28 Z" stroke-width="2.6" stroke-linejoin="round"/></g><text x="1277.0" y="1239.9" font-size="48.0" textLength="57.3" lengthAdjust="spacingAndGlyphs">2p</text><text x="1337.5" y="1224.9" font-size="33.60" stroke-width="0.35" textLength="19.0" lengthAdjust="spacingAndGlyphs">1</text><text x="1356.5" y="1239.9" font-size="48.0" font-style="italic" textLength="32.6" lengthAdjust="spacingAndGlyphs">n</text><text x="1390.1" y="1240.9" font-size="45.6" stroke-width="0.3">′</text><text x="1399.2" y="1239.9" font-size="48.0" font-style="italic" textLength="16.2" lengthAdjust="spacingAndGlyphs">l</text><text x="1416.4" y="1240.9" font-size="45.6" stroke-width="0.3">′</text><path d="M1186,1282.3 h78.8" stroke="#37AD6B" stroke-width="2.9" fill="none"/><g transform="translate(1225.4,1283.3)" fill="#37AD6B" stroke="#37AD6B" stroke-width="0"><path d="M0.00,10.57 L9.15,-5.28 L-9.15,-5.28 Z" stroke-width="2.6" stroke-linejoin="round"/></g><text x="1277.0" y="1298.9" font-size="48.0" textLength="27.1" lengthAdjust="spacingAndGlyphs">3</text><text x="1304.2" y="1298.9" font-size="48.0" font-style="italic" textLength="48.8" lengthAdjust="spacingAndGlyphs">ln</text><text x="1353.9" y="1299.9" font-size="45.6" stroke-width="0.3">′</text><text x="1363.0" y="1298.9" font-size="48.0" font-style="italic" textLength="16.2" lengthAdjust="spacingAndGlyphs">l</text><text x="1380.1" y="1299.9" font-size="45.6" stroke-width="0.3">′</text><path d="M1186,1344.3 h78.8" stroke="#B177DE" stroke-width="2.9" fill="none"/><g transform="translate(1225.4,1344.3)" fill="#B177DE" stroke="#B177DE" stroke-width="0"><path d="M-0.00,-10.41 L8.98,0.00 L0.00,10.41 L-8.98,0.00 Z" stroke-width="2.6" stroke-linejoin="round"/></g><text x="1277.0" y="1357.9" font-size="48.0" textLength="27.1" lengthAdjust="spacingAndGlyphs">4</text><text x="1304.2" y="1357.9" font-size="48.0" font-style="italic" textLength="48.8" lengthAdjust="spacingAndGlyphs">ln</text><text x="1353.9" y="1358.9" font-size="45.6" stroke-width="0.3">′</text><text x="1363.0" y="1357.9" font-size="48.0" font-style="italic" textLength="16.2" lengthAdjust="spacingAndGlyphs">l</text><text x="1380.1" y="1358.9" font-size="45.6" stroke-width="0.3">′</text><path d="M1186,1403.3 h78.8" stroke="#CC9900" stroke-width="2.9" fill="none"/><g transform="translate(1227.6,1403.3)" fill="#CC9900" stroke="#CC9900" stroke-width="0"><path d="M-10.57,0.00 L5.28,-9.15 L5.28,9.15 Z" stroke-width="2.6" stroke-linejoin="round"/></g><text x="1277.0" y="1416.9" font-size="48.0" textLength="27.1" lengthAdjust="spacingAndGlyphs">5</text><text x="1304.2" y="1416.9" font-size="48.0" font-style="italic" textLength="48.8" lengthAdjust="spacingAndGlyphs">ln</text><text x="1353.9" y="1417.9" font-size="45.6" stroke-width="0.3">′</text><text x="1363.0" y="1416.9" font-size="48.0" font-style="italic" textLength="16.2" lengthAdjust="spacingAndGlyphs">l</text><text x="1380.1" y="1417.9" font-size="45.6" stroke-width="0.3">′</text><path d="M1186,1462.3 h78.8" stroke="#00CBCC" stroke-width="2.9" fill="none"/><g transform="translate(1223.2,1462.3)" fill="#00CBCC" stroke="#00CBCC" stroke-width="0"><path d="M10.57,0.00 L-5.28,-9.15 L-5.28,9.15 Z" stroke-width="2.6" stroke-linejoin="round"/></g><text x="1277.0" y="1475.9" font-size="48.0" textLength="129.7" lengthAdjust="spacingAndGlyphs">Total</text></g><clipPath id="cp_d"><rect x="1987" y="1062.5" width="1082.5" height="787.0"/></clipPath><g clip-path="url(#cp_d)" fill="none" stroke-width="2.9" stroke-linejoin="round"><path d="M2614.6,1166.7L2615.8,1170.7M2621.7,1194.5L2624.0,1204.9M2628.7,1229.1L2632.4,1251.4M2636.3,1275.7L2640.2,1301.6M2643.9,1325.9L2647.9,1352.2M2651.2,1376.6L2656.0,1418.3M2658.6,1442.8L2663.9,1499.3M2666.1,1523.8L2671.8,1591.5M2673.6,1616.0L2679.6,1704.2M2681.2,1728.7L2687.4,1826.3M2689.1,1850.8L2694.9,1927.6" stroke="#515151"/><polyline points="2043.2,1859.2 2050.9,1855.3 2058.6,1851.4 2066.3,1847.3 2074.0,1843.4 2081.6,1839.1 2089.3,1835.0 2097.0,1831.6 2104.7,1827.0 2112.3,1822.8 2120.0,1818.2 2127.7,1813.4 2135.4,1808.0 2143.0,1803.2 2150.7,1797.7 2158.4,1791.1 2166.1,1785.3 2173.8,1778.7 2181.4,1772.3 2189.1,1765.0 2196.8,1757.9 2204.5,1750.5 2212.1,1742.3 2219.8,1733.9 2227.5,1725.5 2235.2,1716.4 2242.9,1707.9 2250.5,1698.6 2258.2,1688.6 2265.9,1677.8 2273.6,1663.1 2281.2,1651.2 2288.9,1639.1 2296.6,1627.2 2304.3,1613.9 2311.9,1600.1 2319.6,1587.2 2327.3,1573.7 2335.0,1560.1 2342.7,1545.7 2350.3,1531.2 2358.0,1516.0 2365.7,1497.4 2373.4,1481.2 2381.0,1465.1 2388.7,1448.7 2396.4,1431.7 2404.1,1414.7 2411.8,1397.9 2419.4,1378.0 2427.1,1360.7 2434.8,1342.2 2442.5,1324.4 2450.1,1303.2 2457.8,1285.2 2465.5,1267.4 2473.2,1249.3 2480.8,1232.1 2488.5,1215.1 2496.2,1198.1 2503.9,1181.7 2511.6,1166.1 2519.2,1152.1 2526.9,1138.3 2534.6,1125.8 2542.3,1115.0 2549.9,1105.8 2557.6,1099.1 2565.3,1094.3 2573.0,1092.6 2580.7,1097.9 2588.3,1106.1 2596.0,1116.3 2603.7,1133.9 2611.4,1154.8 2619.0,1182.5 2626.7,1216.9 2634.4,1263.5 2642.1,1313.7 2649.7,1364.4 2657.4,1430.5 2665.1,1511.6 2672.8,1603.8 2680.5,1716.5 2688.1,1838.6 2695.8,1939.8" stroke="none" marker-start="url(#m_gray)" marker-mid="url(#m_gray)" marker-end="url(#m_gray)"/><path d="M2407.6,1738.2L2408.2,1736.4M2423.1,1691.1L2423.4,1690.0M2430.7,1666.5L2431.2,1665.1M2446.1,1618.2L2446.5,1616.9M2453.7,1593.4L2454.3,1591.4M2461.5,1567.8L2461.8,1566.6M2469.1,1543.1L2469.5,1541.7M2484.5,1495.4L2484.8,1494.4M2492.1,1470.9L2492.6,1469.5M2507.5,1424.1L2507.9,1423.0M2629.4,1342.7L2631.7,1352.9M2636.9,1377.0L2639.6,1389.8M2644.2,1414.0L2647.6,1432.6M2651.3,1456.9L2655.9,1493.6M2658.8,1518.0L2663.8,1564.4M2666.3,1588.9L2671.6,1641.2M2673.7,1665.7L2679.5,1742.3M2681.4,1766.8L2687.2,1842.4M2689.1,1866.9L2694.9,1940.7" stroke="#F14040"/><polyline points="2365.7,1851.4 2373.4,1834.2 2381.0,1813.7 2388.7,1795.9 2396.4,1773.1 2404.1,1750.0 2411.8,1724.7 2419.4,1702.8 2427.1,1678.2 2434.8,1653.4 2442.5,1629.9 2450.1,1605.2 2457.8,1579.6 2465.5,1554.8 2473.2,1530.0 2480.8,1507.1 2488.5,1482.6 2496.2,1457.7 2503.9,1435.8 2511.6,1411.2 2519.2,1390.5 2526.9,1371.1 2534.6,1353.2 2542.3,1333.8 2549.9,1317.2 2557.6,1302.4 2565.3,1290.4 2573.0,1280.7 2580.7,1275.5 2588.3,1272.7 2596.0,1274.1 2603.7,1279.6 2611.4,1291.6 2619.0,1309.2 2626.7,1330.7 2634.4,1364.9 2642.1,1401.9 2649.7,1444.7 2657.4,1505.8 2665.1,1576.6 2672.8,1653.4 2680.5,1754.6 2688.1,1854.6 2695.8,1952.9" stroke="none" marker-start="url(#m_red)" marker-mid="url(#m_red)" marker-end="url(#m_red)"/><path d="M2445.9,1825.6L2446.7,1822.6M2453.6,1799.0L2454.4,1796.2M2461.3,1772.6L2462.0,1770.2M2469.0,1746.6L2469.7,1744.4M2476.6,1720.8L2477.4,1718.3M2484.3,1694.7L2485.1,1691.9M2492.0,1668.2L2492.7,1665.8M2499.7,1642.2L2500.3,1640.2M2507.4,1616.7L2508.0,1614.8M2515.3,1591.3L2515.5,1590.7M2630.4,1494.5L2630.7,1495.2M2636.9,1519.0L2639.6,1532.4M2644.2,1556.5L2647.6,1575.2M2651.7,1599.4L2655.5,1622.4M2658.8,1646.8L2663.7,1690.5M2666.3,1715.0L2671.6,1767.9M2674.0,1792.4L2679.3,1846.5M2681.6,1871.0L2687.0,1925.9" stroke="#1A6FDF"/><polyline points="2434.8,1855.8 2442.5,1837.4 2450.1,1810.8 2457.8,1784.4 2465.5,1758.4 2473.2,1732.6 2480.8,1706.5 2488.5,1680.0 2496.2,1654.0 2503.9,1628.4 2511.6,1603.0 2519.2,1579.0 2526.9,1555.1 2534.6,1534.4 2542.3,1515.2 2549.9,1496.7 2557.6,1479.3 2565.3,1465.1 2573.0,1453.7 2580.7,1445.1 2588.3,1440.8 2596.0,1440.2 2603.7,1443.6 2611.4,1453.1 2619.0,1465.7 2626.7,1482.8 2634.4,1506.9 2642.1,1544.4 2649.7,1587.3 2657.4,1634.6 2665.1,1702.7 2672.8,1780.1 2680.5,1858.7 2688.1,1938.1" stroke="none" marker-start="url(#m_blue)" marker-mid="url(#m_blue)" marker-end="url(#m_blue)"/><path d="M2616.6,1171.4L2617.8,1176.2M2623.6,1200.1L2626.1,1211.8M2630.7,1236.0L2634.4,1259.3M2638.3,1283.6L2642.2,1309.5M2645.9,1333.9L2649.9,1361.1M2653.1,1385.5L2658.1,1429.5M2660.6,1454.0L2666.0,1512.2M2668.1,1536.7L2673.8,1606.3M2675.6,1630.8L2681.6,1721.2M2683.2,1745.7L2689.4,1841.5M2691.1,1866.0L2696.9,1942.3" stroke="#37AD6B"/><polyline points="2045.2,1860.2 2052.9,1856.3 2060.6,1852.3 2068.3,1848.3 2076.0,1844.4 2083.6,1840.1 2091.3,1836.0 2099.0,1832.6 2106.7,1827.9 2114.3,1823.7 2122.0,1819.1 2129.7,1814.2 2137.4,1808.8 2145.0,1804.0 2152.7,1798.5 2160.4,1791.7 2168.1,1786.0 2175.8,1779.3 2183.4,1773.0 2191.1,1765.5 2198.8,1758.5 2206.5,1750.9 2214.1,1742.7 2221.8,1734.3 2229.5,1725.9 2237.2,1716.7 2244.9,1708.3 2252.5,1698.8 2260.2,1688.8 2267.9,1677.7 2275.6,1662.9 2283.2,1651.1 2290.9,1639.0 2298.6,1627.0 2306.3,1613.6 2313.9,1599.8 2321.6,1587.0 2329.3,1573.4 2337.0,1559.8 2344.7,1545.3 2352.3,1530.8 2360.0,1515.4 2367.7,1496.6 2375.4,1480.6 2383.0,1464.5 2390.7,1448.0 2398.4,1431.0 2406.1,1414.0 2413.8,1397.0 2421.4,1377.0 2429.1,1360.0 2436.8,1341.3 2444.5,1323.5 2452.1,1302.1 2459.8,1284.4 2467.5,1266.6 2475.2,1248.5 2482.8,1231.4 2490.5,1214.4 2498.2,1197.4 2505.9,1181.2 2513.6,1165.7 2521.2,1151.8 2528.9,1138.1 2536.6,1125.8 2544.3,1115.3 2551.9,1106.2 2559.6,1099.9 2567.3,1095.3 2575.0,1094.6 2582.7,1100.4 2590.3,1108.7 2598.0,1119.7 2605.7,1137.8 2613.4,1159.6 2621.0,1188.1 2628.7,1223.8 2636.4,1271.4 2644.1,1321.7 2651.7,1373.3 2659.4,1441.7 2667.1,1524.5 2674.8,1618.5 2682.5,1733.5 2690.1,1853.8 2697.8,1954.5" stroke="none" marker-start="url(#m_green)" marker-mid="url(#m_green)" marker-end="url(#m_green)"/></g><path d="M2052.2,1849.5 v-8 M2090.3,1849.5 v-8 M2117.3,1849.5 v-8 M2138.3,1849.5 v-8 M2155.5,1849.5 v-8 M2170.0,1849.5 v-8 M2182.5,1849.5 v-8 M2193.6,1849.5 v-8 M2268.7,1849.5 v-8 M2306.8,1849.5 v-8 M2333.8,1849.5 v-8 M2354.8,1849.5 v-8 M2372.0,1849.5 v-8 M2386.5,1849.5 v-8 M2399.0,1849.5 v-8 M2410.1,1849.5 v-8 M2203.5,1849.5 v-15.5 M2485.2,1849.5 v-8 M2523.3,1849.5 v-8 M2550.3,1849.5 v-8 M2571.3,1849.5 v-8 M2588.5,1849.5 v-8 M2603.0,1849.5 v-8 M2615.5,1849.5 v-8 M2626.6,1849.5 v-8 M2420.0,1849.5 v-15.5 M2701.7,1849.5 v-8 M2739.8,1849.5 v-8 M2766.8,1849.5 v-8 M2787.8,1849.5 v-8 M2805.0,1849.5 v-8 M2819.5,1849.5 v-8 M2832.0,1849.5 v-8 M2843.1,1849.5 v-8 M2636.5,1849.5 v-15.5 M2918.2,1849.5 v-8 M2956.3,1849.5 v-8 M2983.3,1849.5 v-8 M3004.3,1849.5 v-8 M3021.5,1849.5 v-8 M3036.0,1849.5 v-8 M3048.5,1849.5 v-8 M3059.6,1849.5 v-8 M2853.0,1849.5 v-15.5 M1987,1823.2 h8 M1987,1807.8 h8 M1987,1796.9 h8 M1987,1788.4 h8 M1987,1781.5 h8 M1987,1775.6 h8 M1987,1770.5 h8 M1987,1766.1 h8 M1987,1735.7 h8 M1987,1720.3 h8 M1987,1709.4 h8 M1987,1700.9 h8 M1987,1694.0 h8 M1987,1688.2 h8 M1987,1683.1 h8 M1987,1678.6 h8 M1987,1762.1 h15.5 M1987,1648.3 h8 M1987,1632.9 h8 M1987,1622.0 h8 M1987,1613.5 h8 M1987,1606.6 h8 M1987,1600.7 h8 M1987,1595.6 h8 M1987,1591.2 h8 M1987,1674.6 h15.5 M1987,1560.8 h8 M1987,1545.4 h8 M1987,1534.5 h8 M1987,1526.0 h8 M1987,1519.1 h8 M1987,1513.3 h8 M1987,1508.2 h8 M1987,1503.7 h8 M1987,1587.2 h15.5 M1987,1473.4 h8 M1987,1458.0 h8 M1987,1447.1 h8 M1987,1438.6 h8 M1987,1431.7 h8 M1987,1425.8 h8 M1987,1420.8 h8 M1987,1416.3 h8 M1987,1499.7 h15.5 M1987,1386.0 h8 M1987,1370.6 h8 M1987,1359.6 h8 M1987,1351.2 h8 M1987,1344.2 h8 M1987,1338.4 h8 M1987,1333.3 h8 M1987,1328.8 h8 M1987,1412.3 h15.5 M1987,1298.5 h8 M1987,1283.1 h8 M1987,1272.2 h8 M1987,1263.7 h8 M1987,1256.8 h8 M1987,1250.9 h8 M1987,1245.9 h8 M1987,1241.4 h8 M1987,1324.8 h15.5 M1987,1211.1 h8 M1987,1195.7 h8 M1987,1184.7 h8 M1987,1176.3 h8 M1987,1169.3 h8 M1987,1163.5 h8 M1987,1158.4 h8 M1987,1153.9 h8 M1987,1237.4 h15.5 M1987,1123.6 h8 M1987,1108.2 h8 M1987,1097.3 h8 M1987,1088.8 h8 M1987,1081.9 h8 M1987,1076.0 h8 M1987,1071.0 h8 M1987,1066.5 h8 M1987,1149.9 h15.5" stroke="#000" stroke-width="2.6" fill="none" stroke-linecap="round"/><rect x="1987" y="1062.5" width="1082.5" height="787.0" fill="none" stroke="#000" stroke-width="3.2"/><g font-family='"Liberation Serif", serif' fill="#000" stroke="#fff" stroke-width="0.6"><text x="1838.4" y="1084.5" font-size="48.0" textLength="54.3" lengthAdjust="spacingAndGlyphs">10</text><text x="1895.9" y="1069.5" font-size="33.60" stroke="none" textLength="29.6" lengthAdjust="spacingAndGlyphs">−</text><text x="1928.0" y="1069.5" font-size="33.60" stroke-width="0.35" textLength="38.0" lengthAdjust="spacingAndGlyphs">11</text><text x="1838.4" y="1171.9" font-size="48.0" textLength="54.3" lengthAdjust="spacingAndGlyphs">10</text><text x="1895.9" y="1156.9" font-size="33.60" stroke="none" textLength="29.6" lengthAdjust="spacingAndGlyphs">−</text><text x="1928.0" y="1156.9" font-size="33.60" stroke-width="0.35" textLength="38.0" lengthAdjust="spacingAndGlyphs">12</text><text x="1838.4" y="1259.4" font-size="48.0" textLength="54.3" lengthAdjust="spacingAndGlyphs">10</text><text x="1895.9" y="1244.4" font-size="33.60" stroke="none" textLength="29.6" lengthAdjust="spacingAndGlyphs">−</text><text x="1928.0" y="1244.4" font-size="33.60" stroke-width="0.35" textLength="38.0" lengthAdjust="spacingAndGlyphs">13</text><text x="1838.4" y="1346.8" font-size="48.0" textLength="54.3" lengthAdjust="spacingAndGlyphs">10</text><text x="1895.9" y="1331.8" font-size="33.60" stroke="none" textLength="29.6" lengthAdjust="spacingAndGlyphs">−</text><text x="1928.0" y="1331.8" font-size="33.60" stroke-width="0.35" textLength="38.0" lengthAdjust="spacingAndGlyphs">14</text><text x="1838.4" y="1434.3" font-size="48.0" textLength="54.3" lengthAdjust="spacingAndGlyphs">10</text><text x="1895.9" y="1419.3" font-size="33.60" stroke="none" textLength="29.6" lengthAdjust="spacingAndGlyphs">−</text><text x="1928.0" y="1419.3" font-size="33.60" stroke-width="0.35" textLength="38.0" lengthAdjust="spacingAndGlyphs">15</text><text x="1838.4" y="1521.7" font-size="48.0" textLength="54.3" lengthAdjust="spacingAndGlyphs">10</text><text x="1895.9" y="1506.7" font-size="33.60" stroke="none" textLength="29.6" lengthAdjust="spacingAndGlyphs">−</text><text x="1928.0" y="1506.7" font-size="33.60" stroke-width="0.35" textLength="38.0" lengthAdjust="spacingAndGlyphs">16</text><text x="1838.4" y="1609.2" font-size="48.0" textLength="54.3" lengthAdjust="spacingAndGlyphs">10</text><text x="1895.9" y="1594.2" font-size="33.60" stroke="none" textLength="29.6" lengthAdjust="spacingAndGlyphs">−</text><text x="1928.0" y="1594.2" font-size="33.60" stroke-width="0.35" textLength="38.0" lengthAdjust="spacingAndGlyphs">17</text><text x="1838.4" y="1696.6" font-size="48.0" textLength="54.3" lengthAdjust="spacingAndGlyphs">10</text><text x="1895.9" y="1681.6" font-size="33.60" stroke="none" textLength="29.6" lengthAdjust="spacingAndGlyphs">−</text><text x="1928.0" y="1681.6" font-size="33.60" stroke-width="0.35" textLength="38.0" lengthAdjust="spacingAndGlyphs">18</text><text x="1838.4" y="1784.1" font-size="48.0" textLength="54.3" lengthAdjust="spacingAndGlyphs">10</text><text x="1895.9" y="1769.1" font-size="33.60" stroke="none" textLength="29.6" lengthAdjust="spacingAndGlyphs">−</text><text x="1928.0" y="1769.1" font-size="33.60" stroke-width="0.35" textLength="38.0" lengthAdjust="spacingAndGlyphs">19</text><text x="1838.4" y="1871.5" font-size="48.0" textLength="54.3" lengthAdjust="spacingAndGlyphs">10</text><text x="1895.9" y="1856.5" font-size="33.60" stroke="none" textLength="29.6" lengthAdjust="spacingAndGlyphs">−</text><text x="1928.0" y="1856.5" font-size="33.60" stroke-width="0.35" textLength="38.0" lengthAdjust="spacingAndGlyphs">20</text><text x="1932.2" y="1905.0" font-size="48.0" textLength="54.3" lengthAdjust="spacingAndGlyphs">10</text><text x="1989.7" y="1890.0" font-size="33.60" stroke="none" textLength="29.6" lengthAdjust="spacingAndGlyphs">−</text><text x="2021.8" y="1890.0" font-size="33.60" stroke-width="0.35" textLength="19.0" lengthAdjust="spacingAndGlyphs">3</text><text x="2148.7" y="1905.0" font-size="48.0" textLength="54.3" lengthAdjust="spacingAndGlyphs">10</text><text x="2206.2" y="1890.0" font-size="33.60" stroke="none" textLength="29.6" lengthAdjust="spacingAndGlyphs">−</text><text x="2238.3" y="1890.0" font-size="33.60" stroke-width="0.35" textLength="19.0" lengthAdjust="spacingAndGlyphs">2</text><text x="2365.2" y="1905.0" font-size="48.0" textLength="54.3" lengthAdjust="spacingAndGlyphs">10</text><text x="2422.7" y="1890.0" font-size="33.60" stroke="none" textLength="29.6" lengthAdjust="spacingAndGlyphs">−</text><text x="2454.8" y="1890.0" font-size="33.60" stroke-width="0.35" textLength="19.0" lengthAdjust="spacingAndGlyphs">1</text><text x="2597.7" y="1905.0" font-size="48.0" textLength="54.3" lengthAdjust="spacingAndGlyphs">10</text><text x="2655.2" y="1890.0" font-size="33.60" stroke-width="0.35" textLength="19.0" lengthAdjust="spacingAndGlyphs">0</text><text x="2814.2" y="1905.0" font-size="48.0" textLength="54.3" lengthAdjust="spacingAndGlyphs">10</text><text x="2871.7" y="1890.0" font-size="33.60" stroke-width="0.35" textLength="19.0" lengthAdjust="spacingAndGlyphs">1</text><text x="3030.7" y="1905.0" font-size="48.0" textLength="54.3" lengthAdjust="spacingAndGlyphs">10</text><text x="3088.2" y="1890.0" font-size="33.60" stroke-width="0.35" textLength="19.0" lengthAdjust="spacingAndGlyphs">2</text><text x="1733.1" y="1085.5" font-size="54.0">(</text><text x="1752.6" y="1084.0" font-size="48.0" textLength="30.2" lengthAdjust="spacingAndGlyphs">d</text><text x="1784.4" y="1085.5" font-size="54.0">)</text><text x="2198.0" y="1976.7" font-size="48.0" textLength="194.6" lengthAdjust="spacingAndGlyphs">Incident</text><text x="2412.7" y="1976.7" font-size="48.0" textLength="155.5" lengthAdjust="spacingAndGlyphs">energy</text><text x="2572.2" y="1988.7" font-size="69.0">/</text><text x="2596.9" y="1978.2" font-size="54.0">(</text><text x="2616.5" y="1976.7" font-size="48.0" textLength="114.6" lengthAdjust="spacingAndGlyphs">MeV</text><text x="2733.3" y="1976.7" font-size="48.0">·</text><text x="2747.4" y="1976.7" font-size="48.0" textLength="30.2" lengthAdjust="spacingAndGlyphs">u</text><text x="2780.8" y="1961.7" font-size="33.60" stroke="none" textLength="29.6" lengthAdjust="spacingAndGlyphs">−</text><text x="2812.9" y="1961.7" font-size="33.60" stroke-width="0.35" textLength="19.0" lengthAdjust="spacingAndGlyphs">1</text><text x="2833.4" y="1978.2" font-size="54.0">)</text><g transform="translate(1787.8,1768.5) rotate(-90)"><text x="0.0" y="0.0" font-size="48.0" textLength="112.3" lengthAdjust="spacingAndGlyphs">Rate</text><text x="132.4" y="0.0" font-size="48.0" textLength="236.8" lengthAdjust="spacingAndGlyphs">coefficient</text><text x="373.2" y="12.0" font-size="69.0">/</text><text x="398.0" y="1.5" font-size="54.0">(</text><text x="417.5" y="0.0" font-size="48.0" textLength="69.3" lengthAdjust="spacingAndGlyphs">cm</text><text x="490.1" y="-15.0" font-size="33.60" stroke-width="0.35" textLength="19.0" lengthAdjust="spacingAndGlyphs">3</text><text x="511.2" y="0.0" font-size="48.0">·</text><text x="525.3" y="0.0" font-size="48.0" textLength="21.4" lengthAdjust="spacingAndGlyphs">s</text><text x="549.9" y="-15.0" font-size="33.60" stroke="none" textLength="29.6" lengthAdjust="spacingAndGlyphs">−</text><text x="582.0" y="-15.0" font-size="33.60" stroke-width="0.35" textLength="19.0" lengthAdjust="spacingAndGlyphs">1</text><text x="602.6" y="1.5" font-size="54.0">)</text></g><path d="M2754,1108.3 h78.8" stroke="#515151" stroke-width="2.9" fill="none"/><g transform="translate(2793.4,1108.3)" fill="#515151" stroke="#515151" stroke-width="0"><rect x="-7.75" y="-7.75" width="15.5" height="15.5" rx="2.4" ry="2.4"/></g><text x="2852.0" y="1121.9" font-size="48.0" textLength="48.5" lengthAdjust="spacingAndGlyphs">1s</text><text x="2903.7" y="1106.9" font-size="33.60" stroke-width="0.35" textLength="19.0" lengthAdjust="spacingAndGlyphs">1</text><text x="2922.7" y="1121.9" font-size="48.0" textLength="27.1" lengthAdjust="spacingAndGlyphs">2</text><text x="2949.9" y="1121.9" font-size="48.0" font-style="italic" textLength="48.8" lengthAdjust="spacingAndGlyphs">ln</text><text x="2999.7" y="1122.9" font-size="45.6" stroke-width="0.3">′</text><text x="3008.7" y="1121.9" font-size="48.0" font-style="italic" textLength="16.2" lengthAdjust="spacingAndGlyphs">l</text><text x="3025.9" y="1122.9" font-size="45.6" stroke-width="0.3">′</text><path d="M2754,1167.3 h78.8" stroke="#F14040" stroke-width="2.9" fill="none"/><g transform="translate(2793.4,1167.3)" fill="#F14040" stroke="#F14040" stroke-width="0"><circle r="8.7"/></g><text x="2852.0" y="1180.9" font-size="48.0" textLength="48.5" lengthAdjust="spacingAndGlyphs">1s</text><text x="2903.7" y="1165.9" font-size="33.60" stroke-width="0.35" textLength="19.0" lengthAdjust="spacingAndGlyphs">1</text><text x="2922.7" y="1180.9" font-size="48.0" textLength="27.1" lengthAdjust="spacingAndGlyphs">3</text><text x="2949.9" y="1180.9" font-size="48.0" font-style="italic" textLength="48.8" lengthAdjust="spacingAndGlyphs">ln</text><text x="2999.7" y="1181.9" font-size="45.6" stroke-width="0.3">′</text><text x="3008.7" y="1180.9" font-size="48.0" font-style="italic" textLength="16.2" lengthAdjust="spacingAndGlyphs">l</text><text x="3025.9" y="1181.9" font-size="45.6" stroke-width="0.3">′</text><path d="M2754,1229.3 h78.8" stroke="#1A6FDF" stroke-width="2.9" fill="none"/><g transform="translate(2793.4,1228.3)" fill="#1A6FDF" stroke="#1A6FDF" stroke-width="0"><path d="M0.00,-10.57 L9.15,5.28 L-9.15,5.28 Z" stroke-width="2.6" stroke-linejoin="round"/></g><text x="2852.0" y="1239.9" font-size="48.0" textLength="48.5" lengthAdjust="spacingAndGlyphs">1s</text><text x="2903.7" y="1224.9" font-size="33.60" stroke-width="0.35" textLength="19.0" lengthAdjust="spacingAndGlyphs">1</text><text x="2922.7" y="1239.9" font-size="48.0" textLength="27.1" lengthAdjust="spacingAndGlyphs">4</text><text x="2949.9" y="1239.9" font-size="48.0" font-style="italic" textLength="48.8" lengthAdjust="spacingAndGlyphs">ln</text><text x="2999.7" y="1240.9" font-size="45.6" stroke-width="0.3">′</text><text x="3008.7" y="1239.9" font-size="48.0" font-style="italic" textLength="16.2" lengthAdjust="spacingAndGlyphs">l</text><text x="3025.9" y="1240.9" font-size="45.6" stroke-width="0.3">′</text><path d="M2754,1282.3 h78.8" stroke="#37AD6B" stroke-width="2.9" fill="none"/><g transform="translate(2793.4,1283.3)" fill="#37AD6B" stroke="#37AD6B" stroke-width="0"><path d="M0.00,10.57 L9.15,-5.28 L-9.15,-5.28 Z" stroke-width="2.6" stroke-linejoin="round"/></g><text x="2852.0" y="1298.9" font-size="48.0" textLength="129.7" lengthAdjust="spacingAndGlyphs">Total</text></g></svg></body></html>
